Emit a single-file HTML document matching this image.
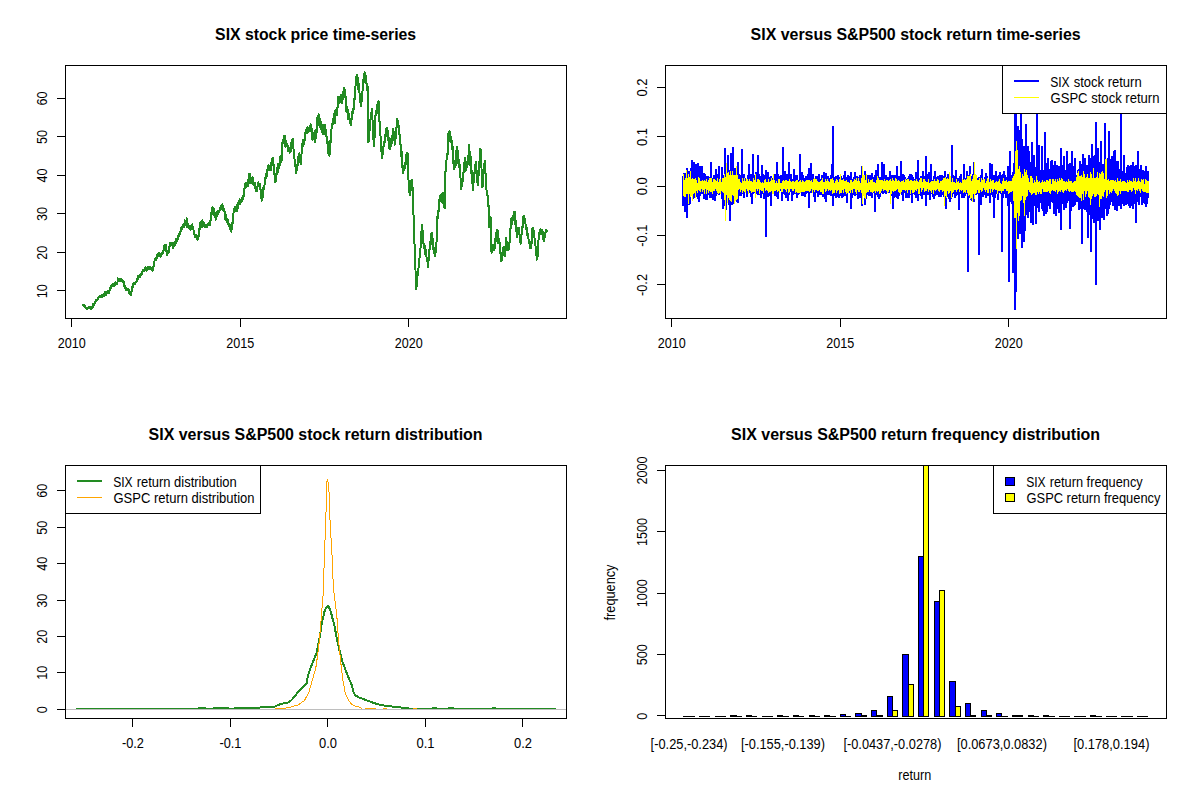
<!DOCTYPE html><html><head><meta charset="utf-8"><title>SIX vs S&amp;P500</title>
<style>html,body{margin:0;padding:0;background:#fff;}svg{display:block}text{font-family:"Liberation Sans", sans-serif;fill:#000}</style></head><body>
<svg width="1200" height="800" viewBox="0 0 1200 800">
<rect x="0" y="0" width="1200" height="800" fill="#fff"/>
<polyline fill="none" stroke="#228B22" stroke-width="2" stroke-linejoin="round" shape-rendering="crispEdges" points="82.8,304.8 82.9,305.0 83.0,304.9 83.2,304.8 83.3,304.5 83.5,304.8 83.6,305.7 83.8,305.8 83.9,306.2 84.1,306.0 84.2,305.8 84.4,305.6 84.5,305.4 84.7,306.3 84.8,306.8 85.0,307.1 85.1,306.2 85.3,305.9 85.4,306.4 85.6,307.0 85.7,307.9 85.9,308.2 86.0,308.6 86.1,308.4 86.3,308.5 86.4,308.6 86.6,308.1 86.7,309.1 86.9,308.9 87.0,309.1 87.1,308.2 87.3,307.7 87.4,307.6 87.6,307.7 87.7,308.1 87.9,308.1 88.0,307.6 88.2,307.3 88.3,307.4 88.4,307.6 88.6,307.6 88.7,307.7 88.9,307.9 89.0,307.0 89.1,307.5 89.3,308.4 89.4,307.0 89.6,307.3 89.7,307.6 89.9,307.4 90.0,308.1 90.1,308.1 90.3,307.3 90.4,308.3 90.6,308.6 90.7,309.0 90.8,309.4 91.0,309.1 91.1,308.8 91.3,308.0 91.4,308.5 91.5,308.4 91.7,308.6 91.8,308.1 92.0,307.5 92.1,307.2 92.3,307.9 92.4,306.2 92.5,305.7 92.7,306.2 92.8,307.1 93.0,306.8 93.1,305.0 93.2,303.7 93.4,304.7 93.5,304.3 93.7,303.8 93.8,304.7 94.0,305.0 94.1,304.4 94.2,304.1 94.4,303.9 94.5,304.1 94.7,303.4 94.8,302.8 94.9,302.4 95.1,302.0 95.2,302.2 95.4,302.3 95.5,302.2 95.6,300.5 95.8,300.4 95.9,301.2 96.1,299.7 96.2,300.0 96.3,300.8 96.5,299.6 96.6,300.8 96.8,300.5 96.9,299.8 97.0,299.7 97.2,299.8 97.3,299.4 97.5,299.8 97.6,298.6 97.7,298.2 97.9,298.8 98.0,298.3 98.2,297.4 98.3,298.1 98.4,298.4 98.6,297.4 98.7,296.7 98.9,296.8 99.0,296.7 99.1,296.6 99.3,296.9 99.4,296.3 99.6,297.1 99.7,295.9 99.8,295.6 100.0,296.4 100.1,297.0 100.3,297.1 100.4,296.8 100.5,296.5 100.7,296.3 100.8,296.5 101.0,296.0 101.1,296.1 101.2,296.3 101.4,296.0 101.5,296.3 101.7,296.3 101.8,297.3 101.9,296.5 102.1,295.6 102.2,295.2 102.4,295.3 102.5,295.8 102.6,295.3 102.8,295.3 102.9,295.4 103.1,295.1 103.2,294.7 103.3,294.7 103.5,294.9 103.6,294.9 103.8,294.4 103.9,294.9 104.0,294.8 104.2,294.2 104.3,295.9 104.5,295.2 104.6,294.2 104.7,294.0 104.9,293.8 105.0,293.8 105.2,291.8 105.3,292.5 105.4,293.8 105.6,292.8 105.7,293.1 105.9,293.9 106.0,294.1 106.1,294.7 106.3,292.6 106.4,292.5 106.6,292.6 106.7,293.0 106.8,293.2 107.0,292.4 107.1,292.6 107.3,292.1 107.4,292.4 107.6,291.2 107.7,291.7 107.8,292.6 108.0,292.0 108.1,291.9 108.3,292.2 108.4,291.8 108.6,291.3 108.7,292.2 108.8,292.2 109.0,291.1 109.1,292.8 109.3,290.6 109.4,290.6 109.6,290.2 109.7,290.0 109.9,290.0 110.0,289.8 110.1,289.7 110.3,287.9 110.4,287.0 110.6,288.0 110.7,287.1 110.9,286.5 111.0,285.7 111.1,287.3 111.3,287.4 111.4,287.9 111.6,286.1 111.7,285.9 111.9,285.3 112.0,285.3 112.1,285.5 112.3,285.2 112.4,285.9 112.6,286.2 112.7,285.5 112.8,283.6 113.0,285.4 113.1,285.0 113.3,284.4 113.4,284.9 113.5,285.1 113.7,286.0 113.8,284.4 114.0,285.3 114.1,286.0 114.2,286.3 114.4,285.1 114.5,284.0 114.7,284.9 114.8,284.6 114.9,284.4 115.1,285.3 115.2,284.4 115.4,282.3 115.5,283.0 115.6,282.6 115.8,283.7 115.9,283.8 116.1,283.7 116.2,283.4 116.4,283.6 116.5,283.3 116.6,284.0 116.8,283.0 116.9,283.3 117.1,283.7 117.2,283.9 117.4,281.9 117.5,282.2 117.6,279.9 117.8,279.4 117.9,278.3 118.1,280.2 118.2,279.3 118.4,279.7 118.5,279.6 118.6,279.6 118.8,279.5 118.9,279.8 119.1,281.1 119.2,280.6 119.3,280.7 119.5,281.2 119.6,280.4 119.8,279.2 119.9,279.3 120.0,280.8 120.2,279.2 120.3,279.3 120.5,280.8 120.6,281.3 120.7,280.9 120.9,281.4 121.0,281.2 121.2,280.0 121.3,279.1 121.4,279.5 121.6,281.1 121.7,280.5 121.9,280.1 122.0,280.2 122.1,280.0 122.3,280.8 122.4,280.9 122.6,281.3 122.7,281.0 122.9,281.5 123.0,281.6 123.1,280.6 123.3,282.6 123.4,282.8 123.6,281.5 123.7,282.2 123.8,283.6 124.0,283.9 124.1,285.1 124.3,285.8 124.4,286.2 124.5,286.3 124.7,287.4 124.8,287.5 125.0,287.5 125.1,285.8 125.3,287.4 125.4,288.4 125.5,288.1 125.7,288.2 125.8,288.6 126.0,288.3 126.1,288.6 126.2,290.5 126.4,288.8 126.5,289.3 126.7,290.4 126.8,289.4 127.0,289.5 127.1,289.8 127.3,288.6 127.4,288.7 127.5,289.1 127.7,289.6 127.8,289.3 128.0,289.0 128.1,288.8 128.3,289.1 128.4,289.5 128.5,289.9 128.7,289.6 128.8,289.6 129.0,292.4 129.1,292.7 129.3,292.7 129.4,290.5 129.5,292.1 129.7,292.9 129.8,294.3 130.0,294.2 130.1,294.0 130.3,294.5 130.4,293.6 130.5,294.8 130.7,295.1 130.8,294.3 131.0,294.4 131.1,294.8 131.3,292.3 131.4,291.4 131.6,291.3 131.7,290.8 131.8,289.9 132.0,288.6 132.1,290.1 132.3,289.6 132.4,287.3 132.6,285.8 132.7,287.2 132.8,286.5 133.0,285.8 133.1,284.5 133.3,284.4 133.4,284.5 133.6,282.6 133.7,282.8 133.8,283.4 134.0,284.1 134.1,283.3 134.3,283.4 134.4,283.9 134.6,284.0 134.7,284.1 134.9,283.8 135.0,283.2 135.1,283.8 135.3,283.3 135.4,282.8 135.6,282.9 135.7,282.5 135.9,282.3 136.0,282.2 136.1,281.9 136.3,281.8 136.4,281.4 136.6,280.1 136.7,280.8 136.8,281.5 137.0,281.1 137.1,280.3 137.3,280.4 137.4,279.1 137.5,277.6 137.7,278.4 137.8,277.8 138.0,278.8 138.1,277.6 138.3,275.6 138.4,276.3 138.5,277.9 138.7,277.4 138.8,277.2 139.0,276.7 139.1,276.6 139.2,276.7 139.4,276.5 139.5,277.4 139.7,277.0 139.8,276.0 139.9,276.0 140.1,276.7 140.2,276.3 140.4,276.1 140.5,274.0 140.6,273.7 140.8,274.2 140.9,273.4 141.1,274.1 141.2,273.9 141.3,273.9 141.5,272.8 141.6,274.6 141.8,274.1 141.9,272.5 142.0,271.8 142.2,273.7 142.3,271.6 142.5,271.4 142.6,271.0 142.7,270.3 142.9,269.9 143.0,269.8 143.2,270.0 143.3,270.8 143.4,271.1 143.6,270.4 143.7,270.9 143.9,270.8 144.0,270.4 144.2,270.1 144.3,269.7 144.4,270.3 144.6,269.0 144.7,268.8 144.9,269.3 145.0,268.1 145.1,268.5 145.3,267.3 145.4,267.9 145.6,269.4 145.7,269.9 145.8,269.7 146.0,269.5 146.1,269.6 146.3,269.8 146.4,269.9 146.6,270.5 146.7,269.2 146.8,269.0 147.0,267.4 147.1,269.1 147.3,269.9 147.4,267.6 147.5,268.3 147.7,269.2 147.8,267.3 148.0,266.4 148.1,266.7 148.3,267.2 148.4,266.6 148.5,267.7 148.7,268.4 148.8,269.0 149.0,269.1 149.1,269.3 149.2,268.8 149.4,268.3 149.5,268.2 149.7,267.8 149.8,267.3 149.9,267.9 150.1,268.4 150.2,269.2 150.4,267.6 150.5,267.3 150.7,268.4 150.8,268.8 150.9,268.9 151.1,269.2 151.2,268.8 151.4,270.0 151.5,270.3 151.6,270.1 151.8,269.5 151.9,269.7 152.1,267.6 152.2,268.7 152.4,270.0 152.5,270.1 152.6,270.7 152.8,270.0 152.9,268.4 153.1,267.8 153.2,267.3 153.3,267.5 153.5,267.3 153.6,266.3 153.8,264.6 153.9,264.2 154.1,263.7 154.2,263.9 154.4,263.2 154.5,261.5 154.6,259.7 154.8,259.9 154.9,259.5 155.1,259.3 155.2,258.8 155.4,258.3 155.5,258.3 155.6,258.7 155.8,257.8 155.9,260.2 156.1,258.3 156.2,258.8 156.3,257.9 156.5,258.4 156.6,254.8 156.8,254.7 156.9,255.6 157.0,256.3 157.2,258.3 157.3,256.9 157.5,257.2 157.6,256.6 157.8,256.4 157.9,255.4 158.0,254.4 158.2,254.1 158.3,253.6 158.5,253.9 158.6,253.3 158.7,253.7 158.9,256.1 159.0,254.6 159.2,254.2 159.3,255.3 159.5,254.6 159.6,253.4 159.7,254.0 159.9,254.7 160.0,255.1 160.2,253.7 160.3,255.9 160.4,256.7 160.6,255.4 160.7,255.1 160.9,254.2 161.0,255.8 161.1,254.3 161.3,254.7 161.4,254.4 161.6,254.4 161.7,254.2 161.9,254.4 162.0,253.9 162.1,252.8 162.3,253.5 162.4,252.7 162.6,252.5 162.7,253.6 162.8,253.5 163.0,251.4 163.1,253.5 163.3,251.6 163.4,251.5 163.5,249.7 163.7,249.3 163.8,247.0 164.0,249.8 164.1,250.4 164.2,247.6 164.4,245.8 164.5,244.6 164.7,247.2 164.8,246.2 164.9,246.1 165.1,245.6 165.2,245.5 165.4,244.8 165.5,244.9 165.6,244.7 165.8,245.3 165.9,247.3 166.1,249.1 166.2,249.9 166.3,250.3 166.5,252.3 166.6,253.4 166.8,255.3 166.9,255.1 167.1,254.6 167.2,253.7 167.3,252.6 167.5,251.5 167.6,251.4 167.8,251.8 167.9,252.0 168.1,251.9 168.2,253.3 168.4,250.5 168.5,249.8 168.6,252.4 168.8,248.0 168.9,247.3 169.1,247.5 169.2,247.4 169.4,247.3 169.5,246.3 169.6,246.3 169.8,245.7 169.9,245.9 170.1,243.2 170.2,243.2 170.4,243.3 170.5,243.1 170.7,242.7 170.8,243.3 170.9,242.8 171.1,244.0 171.2,244.8 171.4,244.7 171.5,245.0 171.6,244.5 171.8,242.8 171.9,243.8 172.1,244.8 172.2,244.2 172.3,244.5 172.5,245.8 172.6,244.5 172.8,245.8 172.9,247.8 173.1,246.0 173.2,246.1 173.3,245.9 173.5,247.0 173.6,246.5 173.8,246.3 173.9,246.0 174.0,245.7 174.2,245.4 174.3,243.1 174.5,245.6 174.6,246.0 174.7,242.9 174.9,244.3 175.0,243.7 175.2,244.0 175.3,243.9 175.5,241.4 175.6,241.7 175.7,243.7 175.9,242.0 176.0,240.5 176.2,239.3 176.3,238.8 176.4,240.2 176.6,242.0 176.7,241.1 176.9,240.3 177.0,239.8 177.1,239.6 177.3,238.9 177.4,239.1 177.6,239.2 177.7,237.3 177.9,236.0 178.0,237.0 178.1,237.2 178.3,235.2 178.4,235.5 178.6,235.0 178.7,235.9 178.8,235.3 179.0,234.9 179.1,234.3 179.3,235.5 179.4,236.4 179.5,234.3 179.7,234.8 179.8,232.7 180.0,232.7 180.1,233.4 180.2,234.5 180.4,232.3 180.5,231.5 180.7,231.3 180.8,230.0 180.9,230.2 181.1,230.1 181.2,229.7 181.4,228.8 181.5,227.1 181.6,227.6 181.8,228.2 181.9,227.3 182.1,228.7 182.2,227.6 182.3,226.5 182.5,227.3 182.6,224.7 182.8,224.6 182.9,225.2 183.0,226.5 183.2,225.6 183.3,225.6 183.5,224.1 183.6,224.6 183.7,226.5 183.9,224.0 184.0,226.9 184.2,223.9 184.3,223.3 184.4,223.0 184.6,223.7 184.7,221.4 184.9,220.3 185.0,221.3 185.1,221.1 185.3,221.6 185.4,223.1 185.6,222.9 185.7,222.9 185.9,223.9 186.0,223.8 186.1,225.6 186.3,222.4 186.4,222.4 186.6,218.2 186.7,222.3 186.9,222.7 187.0,224.7 187.1,227.5 187.3,225.8 187.4,224.9 187.6,224.2 187.7,223.6 187.9,223.7 188.0,225.6 188.1,225.8 188.3,226.0 188.4,225.9 188.6,227.5 188.7,227.7 188.9,227.1 189.0,228.0 189.2,227.4 189.3,226.1 189.4,228.5 189.6,228.4 189.7,227.8 189.9,228.4 190.0,228.4 190.2,227.9 190.3,229.0 190.4,229.1 190.6,229.8 190.7,229.1 190.9,228.3 191.0,226.0 191.1,228.3 191.3,228.0 191.4,227.5 191.6,228.0 191.7,227.9 191.8,228.5 192.0,227.4 192.1,227.3 192.3,224.4 192.4,225.4 192.6,227.2 192.7,228.9 192.8,227.3 193.0,226.9 193.1,227.4 193.3,226.8 193.4,228.3 193.6,231.2 193.7,230.6 193.9,232.3 194.0,230.9 194.1,232.0 194.3,232.5 194.4,233.5 194.6,235.6 194.7,237.0 194.9,235.8 195.0,235.8 195.2,236.2 195.3,235.2 195.5,236.3 195.6,237.1 195.7,236.4 195.9,237.2 196.0,235.0 196.2,236.9 196.3,235.0 196.4,235.2 196.6,235.6 196.7,236.0 196.9,237.8 197.0,237.7 197.1,237.1 197.3,238.1 197.4,239.9 197.6,238.8 197.7,238.6 197.9,239.0 198.0,238.4 198.1,238.2 198.3,238.2 198.4,239.2 198.6,234.7 198.7,234.2 198.9,234.0 199.0,234.2 199.1,233.3 199.3,231.2 199.4,228.8 199.6,228.7 199.7,229.4 199.9,226.4 200.0,224.6 200.1,224.6 200.3,222.4 200.4,223.1 200.6,222.8 200.7,222.8 200.9,222.6 201.0,222.3 201.1,222.3 201.3,222.7 201.4,222.2 201.6,222.8 201.7,224.2 201.9,225.5 202.0,226.8 202.1,224.0 202.3,223.3 202.4,220.2 202.6,224.9 202.7,223.4 202.8,223.8 203.0,224.7 203.1,222.6 203.3,224.2 203.4,224.3 203.6,221.9 203.7,223.8 203.8,225.9 204.0,222.7 204.1,225.0 204.3,225.2 204.4,225.8 204.6,226.0 204.7,227.3 204.8,225.9 205.0,226.8 205.1,225.5 205.3,226.5 205.4,224.9 205.6,225.3 205.7,227.0 205.8,226.5 206.0,226.0 206.1,225.7 206.3,226.0 206.4,225.7 206.5,226.6 206.7,226.8 206.8,226.8 207.0,226.0 207.1,227.5 207.3,225.7 207.4,224.7 207.6,226.1 207.7,225.6 207.8,224.8 208.0,224.0 208.1,224.0 208.3,225.2 208.4,225.1 208.6,224.0 208.7,224.4 208.8,224.3 209.0,222.7 209.1,224.2 209.3,223.4 209.4,222.8 209.6,224.0 209.7,225.1 209.9,222.7 210.0,222.5 210.1,221.3 210.3,222.7 210.4,220.4 210.6,220.9 210.7,218.0 210.9,218.4 211.0,220.1 211.2,213.4 211.3,213.0 211.5,213.7 211.6,212.7 211.8,210.9 211.9,213.8 212.1,211.5 212.2,207.9 212.4,208.5 212.5,207.5 212.6,208.3 212.8,208.2 212.9,209.1 213.1,211.6 213.2,211.3 213.4,209.2 213.5,208.1 213.7,212.2 213.8,213.7 214.0,212.4 214.1,214.5 214.3,215.3 214.4,216.1 214.6,212.6 214.7,214.6 214.9,216.5 215.0,216.9 215.1,217.1 215.3,215.3 215.4,215.7 215.6,216.5 215.7,219.9 215.9,216.2 216.0,215.4 216.2,215.4 216.3,216.6 216.4,215.1 216.6,216.7 216.7,214.4 216.9,214.9 217.0,213.8 217.2,214.3 217.3,213.1 217.5,211.2 217.6,214.2 217.7,214.3 217.9,213.0 218.0,213.4 218.2,214.5 218.3,212.5 218.5,212.6 218.6,212.8 218.8,212.5 218.9,212.2 219.0,210.5 219.2,211.9 219.3,212.0 219.5,211.4 219.6,210.5 219.8,210.8 219.9,209.7 220.0,208.1 220.2,207.7 220.3,207.6 220.5,207.3 220.6,206.2 220.8,208.3 220.9,206.1 221.1,208.0 221.2,206.1 221.3,207.2 221.5,209.1 221.6,208.0 221.8,205.9 221.9,206.0 222.1,206.0 222.2,204.4 222.4,204.8 222.5,205.0 222.6,205.3 222.8,206.0 222.9,207.4 223.1,208.8 223.2,210.0 223.4,210.3 223.5,209.4 223.7,209.8 223.8,209.9 223.9,210.1 224.1,210.8 224.2,209.1 224.4,210.7 224.5,212.2 224.7,211.8 224.8,213.4 225.0,215.2 225.1,215.3 225.2,218.9 225.4,214.1 225.5,215.7 225.7,214.7 225.8,218.2 226.0,220.6 226.1,219.0 226.2,220.0 226.4,220.4 226.5,220.4 226.7,221.4 226.8,218.3 227.0,221.3 227.1,222.2 227.2,222.2 227.4,221.6 227.5,223.1 227.7,222.4 227.8,223.2 228.0,222.8 228.1,220.3 228.2,222.4 228.4,223.8 228.5,225.4 228.7,224.0 228.8,224.7 228.9,225.9 229.1,225.9 229.2,226.5 229.4,226.2 229.5,226.5 229.7,224.8 229.8,226.8 230.0,228.9 230.1,229.2 230.3,229.2 230.4,227.4 230.6,226.5 230.7,228.4 230.8,226.9 231.0,225.1 231.1,225.4 231.3,230.3 231.4,231.8 231.6,228.9 231.7,228.4 231.9,228.8 232.0,226.9 232.2,227.3 232.3,225.2 232.5,222.1 232.6,223.3 232.7,220.4 232.9,219.5 233.0,218.1 233.2,216.2 233.3,215.6 233.5,213.1 233.6,211.1 233.8,211.2 233.9,209.8 234.0,209.0 234.2,209.7 234.3,210.4 234.5,211.5 234.6,211.3 234.8,209.7 234.9,209.2 235.1,206.7 235.2,208.5 235.4,210.3 235.5,211.1 235.7,210.4 235.8,210.0 236.0,211.1 236.1,210.3 236.2,210.0 236.4,210.1 236.5,209.8 236.7,211.0 236.8,208.3 237.0,207.2 237.1,205.7 237.3,204.8 237.4,207.7 237.6,209.1 237.7,206.8 237.9,206.3 238.0,206.8 238.2,206.2 238.3,206.3 238.5,202.4 238.6,201.9 238.8,201.9 238.9,202.2 239.0,202.1 239.2,201.0 239.3,200.6 239.5,199.7 239.6,199.0 239.7,202.4 239.9,200.4 240.0,200.5 240.2,203.9 240.3,203.8 240.4,202.3 240.6,200.0 240.7,200.5 240.9,202.7 241.0,201.9 241.1,202.5 241.3,200.9 241.4,200.7 241.6,199.4 241.7,199.8 241.9,201.3 242.0,197.4 242.1,197.8 242.3,198.4 242.4,197.4 242.6,197.4 242.7,198.4 242.8,199.2 243.0,198.2 243.1,197.5 243.3,195.8 243.4,197.9 243.6,196.0 243.7,194.3 243.8,191.3 244.0,191.2 244.1,188.9 244.3,189.3 244.4,189.7 244.6,188.6 244.7,188.0 244.9,186.0 245.0,185.6 245.1,185.5 245.3,183.7 245.4,183.9 245.6,183.1 245.7,182.5 245.9,183.3 246.0,184.7 246.1,182.7 246.3,183.6 246.4,186.7 246.6,186.8 246.7,185.3 246.8,185.0 247.0,184.5 247.1,184.3 247.3,185.5 247.4,184.6 247.6,180.0 247.7,182.5 247.8,182.6 248.0,183.9 248.1,183.8 248.3,183.1 248.4,186.2 248.6,182.0 248.7,179.6 248.8,177.7 249.0,174.7 249.1,174.0 249.3,177.5 249.4,176.9 249.6,174.1 249.7,173.7 249.9,177.0 250.0,176.9 250.1,176.7 250.3,177.3 250.4,179.2 250.6,182.0 250.7,181.9 250.9,180.2 251.0,179.6 251.2,182.4 251.3,183.1 251.4,180.4 251.6,180.7 251.7,180.6 251.9,180.3 252.0,179.3 252.2,177.5 252.3,178.2 252.5,176.8 252.6,181.3 252.7,182.2 252.9,179.6 253.0,183.2 253.2,183.8 253.3,180.2 253.5,183.1 253.6,182.8 253.8,182.5 253.9,183.0 254.0,184.2 254.2,185.2 254.3,185.4 254.5,185.8 254.6,187.7 254.8,184.5 254.9,183.7 255.1,183.4 255.2,185.0 255.4,185.9 255.5,188.3 255.7,189.5 255.8,189.9 256.0,189.5 256.1,190.3 256.2,191.2 256.4,191.4 256.5,190.8 256.7,189.1 256.8,191.2 257.0,188.0 257.1,188.4 257.3,189.1 257.4,186.5 257.5,186.9 257.7,183.3 257.8,185.0 258.0,183.6 258.1,182.5 258.3,183.0 258.4,182.3 258.6,185.4 258.7,183.8 258.9,184.2 259.0,185.4 259.2,185.1 259.3,186.3 259.4,185.6 259.6,187.7 259.7,187.7 259.9,188.3 260.0,183.7 260.2,188.6 260.3,189.1 260.5,188.5 260.6,190.0 260.8,191.3 260.9,194.1 261.1,192.3 261.2,196.5 261.4,196.2 261.6,200.8 261.7,198.9 261.9,198.8 262.0,198.0 262.2,195.9 262.3,197.3 262.5,197.5 262.6,198.1 262.8,196.9 262.9,193.5 263.1,189.7 263.2,189.2 263.3,188.5 263.5,187.5 263.6,189.0 263.8,188.8 263.9,187.2 264.1,186.8 264.2,185.8 264.4,185.0 264.5,184.7 264.7,184.8 264.8,182.7 264.9,179.3 265.1,182.6 265.2,181.4 265.4,182.2 265.5,177.2 265.7,176.9 265.8,177.0 265.9,174.0 266.1,173.9 266.2,175.7 266.4,176.8 266.5,177.8 266.6,173.3 266.8,169.9 266.9,171.5 267.1,172.4 267.2,170.8 267.4,169.0 267.5,168.8 267.6,169.3 267.8,169.9 267.9,168.4 268.1,169.0 268.2,170.1 268.4,168.0 268.5,164.6 268.7,167.1 268.8,168.6 269.0,168.2 269.1,169.7 269.3,167.6 269.4,167.5 269.6,167.0 269.7,168.2 269.9,168.8 270.0,167.5 270.1,168.3 270.3,169.4 270.4,169.4 270.6,168.7 270.7,170.2 270.9,166.9 271.0,165.3 271.1,162.5 271.3,164.0 271.4,166.2 271.6,165.4 271.7,164.6 271.8,162.8 272.0,162.5 272.1,159.0 272.3,162.1 272.4,160.3 272.6,158.0 272.7,157.8 272.8,158.0 273.0,159.3 273.1,158.8 273.3,159.8 273.4,163.4 273.6,166.4 273.7,165.9 273.8,165.0 274.0,167.0 274.1,169.1 274.3,172.9 274.4,174.3 274.6,172.9 274.7,177.5 274.9,179.1 275.0,182.5 275.1,181.4 275.3,180.2 275.4,178.9 275.6,178.1 275.7,180.8 275.9,180.9 276.0,180.2 276.2,179.0 276.3,174.7 276.4,174.3 276.6,173.7 276.7,172.4 276.9,174.1 277.0,172.3 277.2,171.1 277.3,169.7 277.5,166.7 277.6,170.1 277.7,172.6 277.9,171.2 278.0,168.1 278.2,163.5 278.3,166.6 278.5,168.1 278.6,167.1 278.8,166.2 278.9,167.2 279.0,168.1 279.2,165.8 279.3,166.9 279.5,166.7 279.6,161.8 279.8,161.5 279.9,159.2 280.1,160.5 280.2,162.2 280.4,159.4 280.5,156.0 280.7,160.9 280.8,161.0 281.0,162.0 281.1,158.8 281.2,158.8 281.4,160.4 281.6,161.0 281.7,155.1 281.9,152.3 282.0,149.0 282.2,148.9 282.3,147.0 282.5,142.5 282.6,140.6 282.8,141.9 282.9,139.9 283.1,141.0 283.2,140.4 283.4,142.8 283.6,142.4 283.7,138.4 283.9,137.6 284.0,136.2 284.1,137.0 284.3,138.2 284.4,140.9 284.6,142.3 284.7,141.6 284.8,137.5 285.0,136.1 285.1,139.0 285.3,140.9 285.4,146.6 285.5,142.1 285.7,144.7 285.8,145.3 286.0,141.1 286.1,142.2 286.2,143.8 286.4,143.7 286.5,143.8 286.7,145.1 286.8,143.5 287.0,145.6 287.1,144.4 287.2,144.2 287.4,146.6 287.5,145.5 287.7,147.0 287.8,150.6 288.0,149.1 288.1,148.2 288.2,149.9 288.4,148.4 288.5,151.0 288.7,147.4 288.8,149.9 288.9,149.0 289.1,148.9 289.2,151.1 289.4,150.6 289.5,151.0 289.7,151.1 289.8,152.6 289.9,148.4 290.1,150.4 290.2,151.6 290.4,148.5 290.5,146.8 290.7,151.2 290.8,148.0 290.9,145.1 291.1,143.0 291.2,144.0 291.4,144.0 291.5,143.3 291.6,146.1 291.8,142.6 291.9,142.4 292.1,143.5 292.2,139.6 292.4,139.9 292.5,138.8 292.6,140.0 292.8,139.3 292.9,139.9 293.1,139.4 293.2,144.9 293.4,143.4 293.5,148.5 293.7,153.6 293.8,150.4 293.9,152.5 294.1,151.4 294.2,157.0 294.4,158.8 294.5,159.3 294.7,160.5 294.8,162.9 295.0,162.9 295.1,164.2 295.2,164.3 295.4,166.2 295.5,165.2 295.7,167.8 295.8,165.7 296.0,168.4 296.1,173.1 296.2,173.1 296.4,171.8 296.5,171.3 296.7,169.0 296.8,165.8 297.0,165.8 297.1,168.1 297.2,168.1 297.4,166.7 297.5,164.0 297.7,162.0 297.8,165.4 298.0,164.3 298.1,161.0 298.2,156.8 298.4,155.9 298.5,162.7 298.7,158.1 298.8,157.7 298.9,157.6 299.1,156.5 299.2,155.6 299.4,155.0 299.5,153.5 299.7,159.2 299.8,157.8 300.0,161.1 300.2,158.1 300.3,160.3 300.5,163.0 300.6,164.4 300.8,161.5 300.9,161.8 301.1,160.7 301.2,157.1 301.4,157.1 301.5,155.0 301.6,151.7 301.8,151.4 301.9,145.1 302.1,147.0 302.2,145.3 302.4,143.5 302.5,146.2 302.6,145.8 302.8,144.7 302.9,146.5 303.1,142.6 303.2,140.0 303.4,144.6 303.5,143.9 303.6,144.5 303.8,140.6 303.9,142.1 304.1,141.2 304.2,141.4 304.3,139.8 304.5,141.4 304.6,137.7 304.8,135.0 304.9,132.4 305.1,136.7 305.2,134.4 305.3,133.3 305.5,133.4 305.6,133.8 305.8,132.5 305.9,132.1 306.1,131.2 306.2,130.7 306.3,129.7 306.5,131.4 306.6,130.9 306.8,131.9 306.9,132.6 307.0,133.0 307.2,127.3 307.3,128.5 307.5,128.3 307.6,131.6 307.8,127.7 307.9,127.9 308.0,128.8 308.2,129.0 308.3,131.7 308.5,130.2 308.6,130.7 308.8,130.0 308.9,128.1 309.0,130.2 309.2,131.0 309.3,131.4 309.5,130.7 309.6,131.1 309.8,127.4 309.9,130.6 310.1,128.7 310.2,131.2 310.4,130.3 310.5,125.1 310.7,124.3 310.8,129.4 311.0,128.8 311.1,128.5 311.2,128.8 311.4,128.8 311.5,128.2 311.7,129.7 311.8,130.8 312.0,134.6 312.1,133.3 312.3,137.1 312.4,138.9 312.5,139.8 312.7,139.0 312.8,136.5 313.0,135.2 313.1,135.0 313.3,134.7 313.4,134.9 313.6,133.9 313.7,138.7 313.9,138.6 314.0,136.4 314.2,132.4 314.3,134.8 314.4,135.2 314.6,134.0 314.7,133.5 314.9,130.9 315.0,136.1 315.2,137.1 315.3,142.0 315.5,139.3 315.6,138.8 315.8,138.6 315.9,137.3 316.0,135.6 316.2,132.7 316.3,130.0 316.5,132.8 316.6,132.2 316.8,132.7 316.9,127.4 317.0,125.1 317.2,121.2 317.3,122.9 317.5,117.3 317.6,118.6 317.7,118.1 317.9,115.6 318.0,116.1 318.2,118.2 318.3,116.6 318.5,115.5 318.6,114.0 318.7,119.5 318.9,123.4 319.0,120.1 319.2,118.5 319.3,119.1 319.5,126.3 319.6,126.3 319.8,122.9 319.9,118.7 320.0,119.7 320.2,124.7 320.3,127.1 320.5,125.0 320.6,125.0 320.8,124.8 320.9,121.5 321.1,126.5 321.2,124.7 321.3,129.2 321.5,125.1 321.6,124.6 321.8,128.3 321.9,127.9 322.1,131.5 322.2,131.7 322.4,130.8 322.5,132.5 322.6,133.0 322.8,128.6 322.9,133.9 323.1,133.3 323.2,133.3 323.4,127.2 323.5,126.8 323.7,127.3 323.8,130.5 323.9,126.0 324.1,125.3 324.2,125.1 324.4,127.5 324.5,127.8 324.7,124.8 324.8,126.0 325.0,129.5 325.1,133.9 325.2,134.0 325.4,132.2 325.5,129.8 325.7,129.5 325.8,130.4 326.0,132.9 326.1,134.2 326.2,135.0 326.4,136.5 326.5,136.1 326.7,140.1 326.8,142.1 327.0,141.4 327.1,139.8 327.2,137.2 327.4,138.3 327.5,143.5 327.7,142.7 327.8,141.7 328.0,145.1 328.1,147.2 328.2,149.4 328.4,151.0 328.5,153.8 328.7,150.9 328.8,153.9 328.9,151.9 329.1,154.2 329.2,154.9 329.4,155.6 329.5,154.7 329.7,152.7 329.8,153.0 330.0,151.5 330.1,148.3 330.3,144.4 330.4,141.2 330.6,139.2 330.7,138.1 330.8,137.0 331.0,142.1 331.1,138.3 331.3,135.9 331.4,130.1 331.6,127.4 331.7,126.3 331.9,125.0 332.0,123.8 332.2,126.3 332.3,124.0 332.5,126.3 332.6,119.2 332.8,121.3 332.9,122.7 333.1,123.0 333.2,123.9 333.3,123.4 333.5,122.8 333.6,117.5 333.8,117.7 333.9,113.8 334.1,119.4 334.2,120.3 334.4,120.0 334.5,118.4 334.7,116.7 334.8,121.6 335.0,123.3 335.1,119.5 335.2,120.7 335.4,114.0 335.5,109.8 335.7,111.1 335.8,110.5 336.0,110.8 336.1,112.7 336.2,112.5 336.4,112.3 336.5,111.8 336.7,111.6 336.8,110.7 337.0,112.3 337.1,114.8 337.3,108.2 337.4,108.4 337.5,107.1 337.7,107.8 337.8,103.1 338.0,100.2 338.1,97.1 338.3,102.6 338.4,103.9 338.6,103.9 338.7,97.5 338.8,99.3 339.0,98.9 339.1,96.7 339.3,96.7 339.4,100.6 339.6,101.2 339.7,100.0 339.9,99.6 340.0,98.8 340.1,98.5 340.3,98.3 340.4,99.2 340.6,98.3 340.7,97.5 340.9,97.0 341.0,95.3 341.1,101.9 341.3,100.3 341.4,99.2 341.6,103.4 341.7,102.9 341.8,94.8 342.0,97.0 342.1,98.1 342.3,101.3 342.4,101.1 342.6,99.5 342.7,93.7 342.8,92.7 343.0,93.8 343.1,93.8 343.3,92.5 343.4,91.3 343.6,90.9 343.7,91.9 343.8,92.9 344.0,91.5 344.1,88.2 344.3,93.2 344.4,96.2 344.6,92.8 344.7,93.9 344.9,91.6 345.0,90.0 345.1,92.7 345.3,92.1 345.4,95.5 345.6,98.9 345.7,96.3 345.9,103.3 346.0,107.6 346.2,109.5 346.3,111.6 346.4,110.2 346.6,107.5 346.7,107.0 346.9,108.8 347.0,109.2 347.2,109.7 347.3,111.5 347.5,107.1 347.6,115.4 347.7,119.5 347.9,116.0 348.0,116.5 348.2,116.5 348.3,116.3 348.5,115.4 348.6,115.5 348.8,114.2 348.9,116.3 349.0,117.1 349.2,118.6 349.3,116.8 349.5,118.4 349.6,119.5 349.8,121.6 349.9,119.0 350.0,121.6 350.2,123.7 350.3,123.7 350.5,123.2 350.6,123.8 350.8,122.8 350.9,123.1 351.1,125.2 351.2,122.5 351.3,119.5 351.5,120.2 351.6,119.7 351.8,116.4 351.9,115.0 352.0,115.5 352.2,117.2 352.3,113.1 352.5,111.3 352.6,113.8 352.8,110.4 352.9,111.7 353.0,112.5 353.2,111.4 353.3,108.7 353.5,109.4 353.6,109.0 353.8,108.8 353.9,105.9 354.0,106.6 354.2,99.6 354.3,99.1 354.5,98.3 354.6,99.3 354.8,94.6 354.9,94.5 355.0,90.5 355.2,91.0 355.3,92.5 355.5,86.3 355.6,83.8 355.8,81.4 355.9,83.5 356.1,84.7 356.2,81.4 356.4,76.0 356.6,77.3 356.7,78.5 356.9,75.0 357.0,77.5 357.2,74.7 357.3,74.6 357.5,81.3 357.6,77.5 357.8,82.8 357.9,87.8 358.1,87.5 358.2,88.8 358.3,86.0 358.5,82.9 358.6,85.0 358.8,86.2 358.9,87.7 359.1,90.4 359.2,90.4 359.4,91.2 359.5,93.1 359.7,94.1 359.8,99.8 360.0,99.3 360.1,98.8 360.2,98.4 360.4,97.8 360.5,103.3 360.7,103.3 360.8,100.8 361.0,101.8 361.1,104.5 361.2,106.2 361.4,105.1 361.5,101.2 361.7,101.2 361.8,99.6 362.0,94.4 362.1,94.3 362.3,92.9 362.4,92.8 362.6,89.3 362.7,88.7 362.9,82.2 363.0,79.8 363.2,82.8 363.3,83.9 363.5,80.1 363.6,77.0 363.8,75.6 363.9,74.4 364.0,73.4 364.2,76.8 364.3,79.0 364.5,75.6 364.6,71.9 364.8,79.7 364.9,79.8 365.1,77.2 365.2,78.9 365.4,82.2 365.5,74.3 365.7,81.2 365.8,83.4 366.0,78.3 366.1,82.1 366.2,82.5 366.4,83.5 366.6,84.6 366.7,90.2 366.9,85.2 367.0,84.7 367.2,87.5 367.3,84.4 367.5,85.0 367.6,91.6 367.8,100.4 367.9,106.5 368.1,117.6 368.2,127.2 368.4,134.9 368.5,142.5 368.6,141.4 368.8,141.4 368.9,138.5 369.1,138.7 369.2,132.0 369.3,132.9 369.5,131.8 369.6,129.7 369.8,127.8 369.9,126.7 370.0,124.6 370.2,119.4 370.3,120.0 370.5,119.6 370.6,118.7 370.8,116.3 370.9,116.6 371.0,118.2 371.2,115.6 371.3,113.1 371.5,115.0 371.6,113.4 371.7,111.1 371.9,108.8 372.0,111.8 372.2,114.0 372.3,119.0 372.4,118.7 372.6,120.9 372.7,124.5 372.9,127.4 373.0,128.7 373.1,133.4 373.3,134.3 373.4,138.1 373.6,141.9 373.7,143.5 373.9,144.9 374.0,146.2 374.1,141.4 374.3,137.3 374.4,136.8 374.6,137.2 374.7,129.6 374.9,128.0 375.0,122.8 375.2,119.1 375.3,116.8 375.5,116.0 375.6,112.5 375.8,112.9 375.9,111.0 376.1,112.4 376.2,113.5 376.3,111.5 376.5,111.3 376.6,108.4 376.8,105.5 376.9,105.6 377.0,104.7 377.2,112.9 377.3,107.9 377.5,110.7 377.6,108.0 377.8,106.8 377.9,107.1 378.0,103.1 378.2,105.3 378.3,104.3 378.5,100.6 378.6,101.8 378.8,101.2 378.9,106.2 379.1,113.2 379.2,113.2 379.4,117.4 379.5,121.8 379.7,121.9 379.8,128.2 380.0,130.0 380.1,130.3 380.3,133.7 380.4,133.7 380.6,137.0 380.7,136.3 380.9,140.9 381.0,141.6 381.2,146.2 381.3,145.5 381.4,150.5 381.6,152.5 381.7,155.3 381.9,157.5 382.1,158.0 382.3,158.3 382.4,155.9 382.5,155.0 382.7,153.1 382.8,152.1 383.0,152.9 383.1,147.8 383.3,147.5 383.4,147.1 383.6,145.4 383.7,146.9 383.8,146.1 384.0,143.7 384.1,141.7 384.3,144.0 384.4,141.3 384.6,142.3 384.7,141.8 384.9,135.9 385.0,134.4 385.1,135.6 385.3,136.3 385.4,137.0 385.6,136.8 385.7,136.2 385.9,132.6 386.0,131.0 386.2,130.4 386.3,129.0 386.4,130.3 386.6,129.4 386.7,131.5 386.9,131.8 387.0,128.2 387.2,133.7 387.3,135.0 387.4,135.4 387.6,133.5 387.7,134.5 387.9,139.7 388.0,137.3 388.1,130.8 388.3,134.1 388.4,135.2 388.6,138.4 388.7,139.8 388.9,139.6 389.0,140.2 389.1,144.9 389.3,142.1 389.4,148.5 389.6,146.4 389.7,145.5 389.8,148.1 390.0,148.8 390.1,149.3 390.3,148.7 390.4,145.9 390.6,144.2 390.7,146.9 390.8,145.1 391.0,141.6 391.1,143.5 391.3,144.8 391.4,142.9 391.5,137.7 391.7,138.1 391.8,139.6 392.0,140.5 392.1,142.9 392.2,138.9 392.4,136.2 392.5,135.5 392.7,137.5 392.8,133.2 392.9,135.8 393.1,128.7 393.2,131.5 393.4,130.5 393.5,130.1 393.6,133.2 393.8,131.9 393.9,134.6 394.1,137.5 394.2,140.6 394.4,139.7 394.5,140.9 394.6,144.8 394.8,144.4 394.9,142.9 395.1,141.0 395.2,136.5 395.4,139.1 395.5,136.4 395.7,138.9 395.8,138.0 396.0,135.1 396.1,134.7 396.2,129.7 396.4,128.5 396.5,126.7 396.7,123.6 396.8,124.5 397.0,123.9 397.1,126.3 397.3,118.5 397.4,119.9 397.6,120.0 397.7,120.3 397.8,122.1 398.0,124.0 398.1,124.9 398.3,124.7 398.4,127.5 398.6,129.0 398.7,125.3 398.9,127.9 399.0,127.1 399.1,127.9 399.3,131.8 399.4,134.0 399.6,135.7 399.7,134.9 399.9,136.7 400.0,136.5 400.1,139.9 400.3,142.5 400.4,144.9 400.6,144.9 400.7,144.8 400.9,146.1 401.0,146.4 401.1,149.3 401.3,155.3 401.4,156.3 401.6,151.7 401.7,152.4 401.9,153.7 402.0,158.7 402.2,160.9 402.3,163.4 402.5,168.3 402.6,166.3 402.8,166.3 402.9,171.7 403.0,172.0 403.2,172.9 403.3,171.4 403.5,169.7 403.6,166.9 403.8,167.9 403.9,168.3 404.0,170.2 404.2,168.5 404.3,166.3 404.5,164.9 404.6,168.9 404.8,163.3 404.9,164.2 405.0,163.9 405.2,165.4 405.3,162.3 405.5,163.6 405.6,164.8 405.8,161.8 405.9,159.0 406.0,158.3 406.2,154.9 406.3,155.6 406.5,155.3 406.6,156.5 406.8,160.5 406.9,160.6 407.0,155.5 407.2,155.1 407.3,153.8 407.5,152.6 407.6,156.8 407.8,160.9 407.9,161.7 408.1,162.8 408.2,170.6 408.4,177.1 408.5,179.9 408.7,182.2 408.8,184.5 409.0,185.2 409.1,186.1 409.3,192.0 409.4,191.5 409.6,189.9 409.7,187.1 409.9,191.7 410.0,184.7 410.1,191.5 410.3,191.0 410.4,195.5 410.6,188.2 410.7,186.5 410.9,184.0 411.0,184.5 411.2,183.3 411.3,180.8 411.5,184.8 411.6,180.7 411.8,179.6 411.9,181.3 412.0,179.9 412.2,179.7 412.3,183.8 412.5,186.7 412.6,187.6 412.8,193.5 412.9,198.1 413.1,207.5 413.2,206.5 413.3,213.5 413.5,214.5 413.6,218.8 413.8,223.6 413.9,226.9 414.1,232.2 414.2,238.4 414.3,237.8 414.5,243.5 414.6,247.2 414.8,249.5 414.9,250.6 415.0,256.6 415.2,260.7 415.3,265.8 415.5,269.7 415.6,275.5 415.7,281.3 415.9,285.9 416.0,288.9 416.2,288.4 416.3,288.6 416.4,285.4 416.6,286.3 416.7,282.3 416.9,282.4 417.0,282.0 417.1,282.4 417.3,280.3 417.4,277.6 417.6,275.3 417.7,272.9 417.9,274.3 418.0,272.8 418.1,271.5 418.3,270.8 418.4,269.0 418.6,267.1 418.7,265.3 418.8,267.4 419.0,267.2 419.1,263.7 419.3,258.9 419.4,259.1 419.5,258.1 419.7,257.4 419.8,256.7 420.0,254.0 420.1,254.3 420.2,252.9 420.4,250.3 420.5,248.3 420.7,245.6 420.8,245.0 421.0,240.1 421.1,238.6 421.2,235.5 421.4,231.5 421.5,232.8 421.7,230.9 421.8,229.0 422.0,227.9 422.1,224.7 422.3,225.8 422.4,228.3 422.6,231.9 422.7,230.3 422.9,234.5 423.0,236.2 423.2,240.4 423.3,242.8 423.5,243.6 423.6,248.2 423.8,245.6 423.9,246.1 424.0,246.4 424.2,245.6 424.3,246.8 424.5,244.2 424.6,246.9 424.7,249.4 424.9,251.9 425.0,250.8 425.2,253.8 425.3,251.7 425.5,252.0 425.6,249.2 425.7,250.4 425.9,251.8 426.0,255.0 426.2,255.1 426.3,255.4 426.5,257.3 426.6,258.9 426.8,258.9 426.9,259.8 427.1,260.2 427.2,260.5 427.4,259.1 427.5,261.8 427.7,265.8 427.8,266.9 428.0,266.3 428.1,264.5 428.2,262.8 428.4,263.2 428.5,261.7 428.7,258.6 428.8,258.1 429.0,256.0 429.1,255.6 429.3,253.0 429.4,249.0 429.5,249.2 429.7,249.7 429.8,246.8 430.0,246.1 430.1,245.6 430.3,243.7 430.4,241.3 430.6,245.0 430.7,243.7 430.9,242.9 431.0,237.9 431.2,240.3 431.3,233.9 431.5,232.8 431.6,234.0 431.8,232.6 431.9,233.5 432.1,233.8 432.2,235.6 432.4,232.9 432.5,237.6 432.7,240.2 432.8,240.0 433.0,242.4 433.1,244.6 433.2,245.3 433.4,246.6 433.5,249.7 433.7,247.9 433.8,249.0 434.0,248.8 434.1,252.2 434.3,251.7 434.4,253.3 434.6,254.1 434.7,255.1 434.9,256.0 435.0,254.8 435.1,255.8 435.3,254.7 435.4,254.7 435.6,251.5 435.7,251.7 435.9,251.0 436.0,247.7 436.1,247.2 436.3,246.1 436.4,242.4 436.6,241.4 436.7,234.8 436.8,227.7 437.0,222.3 437.1,220.6 437.3,218.2 437.4,216.8 437.6,216.0 437.7,218.0 437.8,216.2 438.0,214.7 438.1,210.5 438.3,211.2 438.4,212.8 438.5,212.9 438.7,204.0 438.8,206.6 439.0,209.0 439.1,207.5 439.2,200.2 439.4,199.8 439.5,200.2 439.7,198.8 439.8,198.2 439.9,196.4 440.1,199.8 440.2,195.5 440.4,200.9 440.5,199.5 440.6,199.6 440.8,195.3 440.9,195.3 441.1,198.6 441.2,194.4 441.4,201.8 441.5,195.9 441.6,194.7 441.8,197.1 441.9,197.7 442.1,198.8 442.2,198.7 442.4,198.7 442.5,198.8 442.6,198.3 442.8,193.1 442.9,200.3 443.1,202.0 443.2,202.8 443.4,201.4 443.5,203.3 443.7,203.7 443.8,204.1 444.0,207.5 444.1,202.1 444.3,205.0 444.4,203.6 444.5,205.5 444.7,208.1 444.8,207.8 445.0,197.1 445.1,186.2 445.3,178.5 445.4,175.4 445.6,168.4 445.7,171.2 445.9,168.7 446.0,166.5 446.2,168.8 446.3,162.4 446.5,160.1 446.6,159.6 446.8,159.1 446.9,155.2 447.1,153.8 447.2,156.9 447.4,152.9 447.5,156.1 447.7,142.9 447.8,148.2 448.0,143.5 448.1,142.2 448.2,138.9 448.4,135.4 448.5,133.2 448.7,134.6 448.8,135.6 448.9,137.9 449.1,136.4 449.2,134.4 449.4,132.9 449.5,130.6 449.7,140.5 449.8,141.0 449.9,139.5 450.1,136.7 450.2,133.7 450.4,140.9 450.5,142.4 450.6,137.0 450.8,141.7 450.9,136.5 451.1,140.5 451.2,136.8 451.3,137.2 451.5,140.8 451.6,141.9 451.8,143.0 451.9,140.9 452.0,141.4 452.2,145.8 452.3,147.3 452.5,149.7 452.6,147.1 452.7,149.1 452.9,147.0 453.0,151.8 453.2,155.3 453.3,161.5 453.5,164.0 453.6,165.6 453.7,163.5 453.9,164.0 454.0,165.1 454.2,167.8 454.3,169.5 454.4,168.3 454.6,164.0 454.7,162.3 454.9,163.1 455.0,161.2 455.1,166.7 455.3,162.8 455.4,165.9 455.6,165.3 455.7,159.0 455.9,158.4 456.0,160.5 456.1,155.3 456.3,153.8 456.4,150.3 456.6,150.1 456.7,148.5 456.9,148.1 457.0,147.0 457.1,150.5 457.3,151.7 457.4,152.6 457.6,155.4 457.7,153.4 457.8,150.6 458.0,157.2 458.1,153.9 458.3,159.3 458.4,156.1 458.5,164.4 458.7,159.4 458.8,163.9 459.0,167.1 459.1,163.7 459.2,165.0 459.4,166.7 459.5,163.2 459.7,170.6 459.8,174.9 460.0,175.2 460.2,169.4 460.3,175.3 460.5,178.3 460.6,180.6 460.8,182.9 460.9,183.8 461.1,188.7 461.2,188.4 461.3,189.5 461.5,186.8 461.6,183.2 461.8,184.1 461.9,185.8 462.0,185.0 462.2,178.6 462.3,179.0 462.5,178.6 462.6,181.7 462.7,181.8 462.9,179.3 463.0,179.7 463.2,174.5 463.3,177.4 463.4,172.2 463.6,171.8 463.7,172.7 463.9,166.8 464.0,164.9 464.1,162.6 464.3,164.3 464.4,163.9 464.6,163.4 464.7,164.6 464.9,158.1 465.0,161.2 465.1,163.2 465.3,162.9 465.4,166.2 465.6,170.8 465.7,165.9 465.8,162.2 466.0,161.6 466.1,163.6 466.3,166.1 466.4,162.6 466.6,167.0 466.7,162.7 466.8,165.9 467.0,165.6 467.1,165.0 467.3,167.0 467.4,165.4 467.6,163.3 467.7,163.7 467.9,164.7 468.0,157.6 468.1,159.1 468.3,156.1 468.4,158.8 468.6,162.0 468.7,158.7 468.9,156.2 469.0,155.6 469.2,144.5 469.3,151.9 469.5,152.7 469.6,151.5 469.7,152.9 469.9,153.3 470.0,154.9 470.2,161.0 470.3,160.6 470.5,165.9 470.6,156.6 470.7,160.1 470.9,164.9 471.0,167.0 471.2,163.7 471.3,166.2 471.4,174.1 471.6,170.7 471.7,171.1 471.9,171.8 472.0,174.6 472.1,180.3 472.3,183.6 472.4,178.4 472.6,186.4 472.7,186.2 472.8,187.7 473.0,189.8 473.1,188.8 473.3,185.0 473.4,182.4 473.6,180.4 473.7,177.9 473.8,177.9 474.0,180.7 474.1,179.5 474.3,173.1 474.4,181.8 474.5,173.6 474.7,172.4 474.8,170.8 475.0,171.5 475.1,167.7 475.3,167.5 475.4,169.3 475.5,164.3 475.7,161.7 475.8,163.2 476.0,162.8 476.1,163.8 476.2,167.1 476.4,169.9 476.5,170.0 476.7,174.4 476.8,174.0 477.0,171.2 477.1,177.4 477.2,177.3 477.4,182.7 477.5,180.4 477.7,183.4 477.8,184.4 477.9,185.3 478.1,180.2 478.2,175.8 478.4,179.7 478.5,171.2 478.6,174.5 478.8,175.3 478.9,172.7 479.1,170.8 479.2,165.0 479.3,162.7 479.5,161.2 479.6,160.0 479.8,159.1 479.9,154.3 480.0,150.8 480.2,149.3 480.3,151.7 480.5,149.9 480.6,149.8 480.8,154.5 480.9,157.5 481.0,161.1 481.2,156.5 481.3,163.1 481.5,167.6 481.6,174.1 481.7,170.1 481.9,174.6 482.0,180.2 482.2,183.8 482.3,186.7 482.4,187.5 482.6,185.5 482.7,185.3 482.9,182.2 483.0,178.3 483.1,182.5 483.3,177.1 483.4,173.0 483.6,171.6 483.7,168.6 483.8,172.1 484.0,170.8 484.1,172.5 484.3,169.2 484.4,163.7 484.5,163.4 484.7,160.5 484.8,162.0 485.0,163.7 485.1,166.4 485.3,172.5 485.4,170.8 485.5,174.1 485.7,175.6 485.8,173.8 486.0,174.7 486.1,178.8 486.2,183.6 486.4,186.7 486.5,189.7 486.7,190.8 486.8,191.9 486.9,194.3 487.1,194.8 487.2,193.6 487.4,195.5 487.5,194.8 487.6,197.7 487.8,199.2 487.9,201.1 488.1,204.1 488.2,204.3 488.3,206.1 488.5,204.5 488.6,209.2 488.8,209.5 488.9,213.7 489.1,212.8 489.2,216.8 489.4,227.5 489.5,221.6 489.7,221.4 489.8,222.3 490.0,222.1 490.2,217.6 490.3,218.9 490.5,218.6 490.6,217.5 490.8,226.5 490.9,234.5 491.1,242.9 491.2,251.2 491.4,251.3 491.5,251.2 491.7,252.6 491.8,252.4 492.0,250.1 492.1,249.7 492.2,251.5 492.4,249.9 492.5,250.4 492.7,250.8 492.8,249.6 493.0,245.0 493.1,247.4 493.2,248.5 493.4,248.8 493.5,247.1 493.7,250.0 493.8,248.7 493.9,247.2 494.1,246.9 494.2,247.6 494.4,247.5 494.5,245.5 494.7,247.2 494.8,248.1 495.0,247.1 495.1,246.7 495.3,244.5 495.4,238.3 495.6,240.8 495.7,241.4 495.8,239.7 496.0,233.2 496.1,236.4 496.3,237.6 496.4,233.6 496.6,232.4 496.7,231.7 496.9,230.0 497.0,231.7 497.2,232.4 497.3,234.3 497.5,234.1 497.6,231.1 497.8,231.1 497.9,240.3 498.1,238.8 498.2,240.6 498.3,241.5 498.5,243.4 498.6,242.4 498.8,239.9 498.9,240.5 499.1,238.4 499.2,241.0 499.4,242.5 499.5,242.1 499.7,244.9 499.8,249.1 500.0,252.9 500.1,251.4 500.3,252.3 500.4,251.5 500.6,253.8 500.7,258.9 500.9,261.2 501.0,260.2 501.2,261.2 501.3,260.5 501.4,257.7 501.6,261.0 501.7,253.2 501.9,253.8 502.0,254.1 502.1,257.5 502.3,257.9 502.4,258.5 502.6,254.2 502.7,253.5 502.8,252.4 503.0,249.5 503.1,247.5 503.3,248.5 503.4,248.3 503.6,246.9 503.7,252.8 503.9,251.2 504.0,247.7 504.2,251.0 504.3,252.3 504.5,253.7 504.6,256.2 504.8,255.0 504.9,253.3 505.1,250.1 505.2,249.1 505.4,246.8 505.5,246.1 505.6,250.9 505.8,246.4 505.9,240.8 506.1,241.7 506.2,237.5 506.4,239.3 506.5,240.9 506.7,242.4 506.8,242.7 507.0,244.7 507.1,245.1 507.3,246.3 507.4,243.3 507.6,243.3 507.7,242.1 507.9,245.4 508.0,246.9 508.2,245.2 508.3,247.0 508.5,250.5 508.6,248.7 508.8,247.5 508.9,246.0 509.0,245.8 509.2,243.7 509.3,242.8 509.5,243.3 509.6,240.9 509.8,235.9 509.9,236.9 510.0,234.7 510.2,233.4 510.3,230.6 510.5,228.5 510.6,228.8 510.8,227.1 510.9,224.7 511.1,218.6 511.2,225.2 511.4,222.3 511.5,221.6 511.7,224.0 511.8,217.6 511.9,223.4 512.1,220.5 512.2,222.4 512.4,220.0 512.5,220.6 512.7,219.9 512.8,219.0 513.0,216.6 513.1,217.5 513.3,215.9 513.4,218.9 513.6,216.0 513.7,217.2 513.8,216.5 514.0,216.9 514.1,218.1 514.3,212.1 514.4,213.7 514.6,213.0 514.7,212.3 514.9,211.6 515.0,212.5 515.1,212.5 515.3,212.0 515.4,222.3 515.6,226.1 515.7,224.6 515.9,226.8 516.0,224.7 516.2,220.5 516.3,222.0 516.4,228.3 516.6,234.9 516.7,235.4 516.9,236.9 517.0,235.5 517.2,232.8 517.3,230.3 517.5,231.5 517.6,231.2 517.7,229.8 517.9,228.6 518.0,227.5 518.2,229.3 518.3,232.4 518.5,229.6 518.6,230.8 518.8,227.5 518.9,228.8 519.0,227.6 519.2,229.7 519.3,232.0 519.5,234.8 519.6,238.0 519.8,236.4 519.9,234.8 520.0,237.1 520.2,239.9 520.3,239.8 520.5,243.0 520.6,243.8 520.8,241.9 520.9,241.3 521.1,242.0 521.2,235.2 521.3,236.1 521.5,234.7 521.6,230.7 521.8,234.3 521.9,232.7 522.1,229.7 522.2,229.6 522.4,228.5 522.5,226.2 522.6,226.8 522.8,227.0 522.9,222.9 523.1,222.4 523.2,223.2 523.4,216.3 523.5,224.8 523.6,222.3 523.8,219.2 523.9,215.6 524.1,218.8 524.2,219.5 524.3,218.3 524.5,218.5 524.6,218.8 524.8,218.3 524.9,219.0 525.0,218.7 525.2,222.5 525.3,222.6 525.5,223.7 525.6,225.3 525.8,228.5 525.9,228.8 526.0,228.5 526.2,227.8 526.3,226.5 526.5,227.4 526.6,230.3 526.7,230.8 526.9,231.2 527.0,230.5 527.2,228.2 527.3,232.1 527.5,236.0 527.6,236.7 527.7,233.5 527.9,235.1 528.0,237.2 528.2,236.1 528.3,238.8 528.5,239.2 528.6,239.6 528.8,241.2 528.9,241.8 529.0,242.8 529.2,241.1 529.3,240.3 529.5,244.1 529.6,245.5 529.7,244.5 529.9,248.2 530.0,246.3 530.2,244.1 530.3,247.7 530.5,247.0 530.6,247.9 530.7,247.8 530.9,248.1 531.0,245.5 531.2,244.0 531.3,246.3 531.4,241.8 531.6,244.0 531.7,241.9 531.9,237.4 532.0,237.6 532.2,237.6 532.3,233.7 532.4,228.4 532.6,231.2 532.7,229.9 532.9,230.0 533.0,228.8 533.2,229.4 533.3,229.1 533.4,228.0 533.6,230.7 533.7,233.2 533.9,233.1 534.0,232.0 534.1,235.0 534.3,232.4 534.4,236.6 534.6,238.7 534.7,241.8 534.9,240.8 535.0,240.0 535.1,242.2 535.3,243.7 535.4,242.1 535.6,247.9 535.7,249.4 535.9,249.2 536.0,248.3 536.2,253.8 536.3,255.3 536.4,253.5 536.6,257.0 536.7,259.6 536.9,259.4 537.0,258.2 537.2,255.5 537.3,252.5 537.5,253.4 537.6,256.7 537.7,251.4 537.9,247.5 538.0,246.6 538.2,242.8 538.3,242.3 538.5,241.1 538.6,236.4 538.8,235.0 538.9,234.4 539.0,235.3 539.2,235.3 539.3,237.5 539.5,232.4 539.6,234.2 539.7,232.4 539.9,233.1 540.0,233.8 540.2,231.1 540.3,231.4 540.5,229.4 540.6,231.6 540.7,229.9 540.9,229.9 541.0,231.3 541.2,229.9 541.3,233.3 541.4,230.7 541.6,231.9 541.7,231.2 541.9,230.6 542.0,230.8 542.2,230.1 542.3,230.8 542.4,232.0 542.6,237.6 542.7,235.5 542.9,239.3 543.0,238.9 543.1,235.3 543.3,232.0 543.4,237.3 543.6,234.4 543.7,239.3 543.9,241.3 544.0,241.2 544.1,240.6 544.3,239.3 544.4,239.2 544.6,237.6 544.7,235.9 544.9,235.0 545.0,237.6 545.2,234.4 545.3,234.7 545.5,232.0 545.6,232.5 545.8,229.9 545.9,229.7 546.1,232.3 546.2,232.5 546.4,230.7 546.5,232.2 546.7,230.6 546.8,231.4 547.0,231.4 547.1,231.1 547.2,230.0"/>
<rect x="65.5" y="65.5" width="501" height="253" fill="none" stroke="#000" stroke-width="1" shape-rendering="crispEdges"/>
<text x="215.10" y="40.20" font-size="16" font-weight="bold" textLength="201" lengthAdjust="spacingAndGlyphs">SIX stock price time-series</text>
<text transform="translate(47.00,298.20) rotate(-90)" font-size="13.8" textLength="14" lengthAdjust="spacingAndGlyphs">10</text>
<text transform="translate(47.00,259.65) rotate(-90)" font-size="13.8" textLength="14" lengthAdjust="spacingAndGlyphs">20</text>
<text transform="translate(47.00,221.10) rotate(-90)" font-size="13.8" textLength="14" lengthAdjust="spacingAndGlyphs">30</text>
<text transform="translate(47.00,182.55) rotate(-90)" font-size="13.8" textLength="14" lengthAdjust="spacingAndGlyphs">40</text>
<text transform="translate(47.00,144.00) rotate(-90)" font-size="13.8" textLength="14" lengthAdjust="spacingAndGlyphs">50</text>
<text transform="translate(47.00,105.45) rotate(-90)" font-size="13.8" textLength="14" lengthAdjust="spacingAndGlyphs">60</text>
<path d="M57.0 290.5H65.5M57.0 252.5H65.5M57.0 213.5H65.5M57.0 175.5H65.5M57.0 136.5H65.5M57.0 98.5H65.5" stroke="#000" stroke-width="1" fill="none" shape-rendering="crispEdges"/>
<text x="57.70" y="348.20" font-size="13.8" textLength="28" lengthAdjust="spacingAndGlyphs">2010</text>
<text x="226.20" y="348.20" font-size="13.8" textLength="28" lengthAdjust="spacingAndGlyphs">2015</text>
<text x="394.70" y="348.20" font-size="13.8" textLength="28" lengthAdjust="spacingAndGlyphs">2020</text>
<path d="M71.5 318.5V326.5M240.5 318.5V326.5M408.5 318.5V326.5" stroke="#000" stroke-width="1" fill="none" shape-rendering="crispEdges"/>
<path d="M682 176v30h2v-30zM683 173v28h2v-28zM684 173v39h2v-39zM685 176v21h2v-21zM686 168v50h2v-50zM687 176v22h2v-22zM688 171v34h2v-34zM689 173v31h2v-31zM690 168v27h2v-27zM691 160v34h2v-34zM692 178v21h2v-21zM693 162v36h2v-36zM694 173v22h2v-22zM695 164v28h2v-28zM696 173v24h2v-24zM697 163v36h2v-36zM698 168v34h2v-34zM699 166v30h2v-30zM700 182v12h2v-12zM701 166v25h2v-25zM702 174v20h2v-20zM703 173v26h2v-26zM704 174v20h2v-20zM705 176v24h2v-24zM706 180v20h2v-20zM707 176v17h2v-17zM708 177v18h2v-18zM709 179v19h2v-19zM710 162v36h2v-36zM711 178v15h2v-15zM712 179v21h2v-21zM713 175v20h2v-20zM714 179v22h2v-22zM715 169v27h2v-27zM716 174v20h2v-20zM717 178v15h2v-15zM718 166v29h2v-29zM719 179v13h2v-13zM720 180v14h2v-14zM721 167v32h2v-32zM722 176v33h2v-33zM723 175v31h2v-31zM724 148v50h2v-50zM725 168v42h2v-42zM726 171v32h2v-32zM727 155v46h2v-46zM728 176v29h2v-29zM729 170v51h2v-51zM730 153v45h2v-45zM731 168v37h2v-37zM732 147v51h2v-51zM733 172v32h2v-32zM734 168v30h2v-30zM735 178v20h2v-20zM736 177v25h2v-25zM737 162v41h2v-41zM738 174v22h2v-22zM739 175v16h2v-16zM740 181v15h2v-15zM741 149v45h2v-45zM742 179v14h2v-14zM743 174v24h2v-24zM744 178v15h2v-15zM745 181v10h2v-10zM746 180v17h2v-17zM747 175v19h2v-19zM748 164v29h2v-29zM749 177v13h2v-13zM750 174v23h2v-23zM751 180v24h2v-24zM752 154v40h2v-40zM753 175v18h2v-18zM754 175v17h2v-17zM755 172v22h2v-22zM756 174v19h2v-19zM757 155v40h2v-40zM758 174v21h2v-21zM759 176v16h2v-16zM760 176v22h2v-22zM761 165v27h2v-27zM762 174v20h2v-20zM763 175v24h2v-24zM764 175v20h2v-20zM765 170v67h2v-67zM766 179v14h2v-14zM767 172v25h2v-25zM768 179v13h2v-13zM769 177v19h2v-19zM770 176v30h2v-30zM771 178v15h2v-15zM772 180v14h2v-14zM773 176v14h2v-14zM774 174v22h2v-22zM775 179v17h2v-17zM776 162v35h2v-35zM777 174v25h2v-25zM778 176v17h2v-17zM779 178v13h2v-13zM780 175v16h2v-16zM781 175v26h2v-26zM782 147v47h2v-47zM783 181v13h2v-13zM784 171v24h2v-24zM785 178v20h2v-20zM786 174v19h2v-19zM787 181v20h2v-20zM788 162v33h2v-33zM789 176v16h2v-16zM790 174v17h2v-17zM791 179v22h2v-22zM792 182v13h2v-13zM793 169v24h2v-24zM794 176v18h2v-18zM795 175v17h2v-17zM796 175v23h2v-23zM797 181v14h2v-14zM798 180v14h2v-14zM799 154v37h2v-37zM800 177v16h2v-16zM801 172v24h2v-24zM802 175v21h2v-21zM803 179v17h2v-17zM804 178v19h2v-19zM805 176v18h2v-18zM806 178v15h2v-15zM807 174v18h2v-18zM808 168v40h2v-40zM809 178v13h2v-13zM810 163v30h2v-30zM811 177v15h2v-15zM812 174v19h2v-19zM813 179v18h2v-18zM814 178v24h2v-24zM815 176v16h2v-16zM816 179v14h2v-14zM817 176v21h2v-21zM818 174v16h2v-16zM819 180v15h2v-15zM820 179v16h2v-16zM821 175v19h2v-19zM822 177v20h2v-20zM823 172v23h2v-23zM824 174v25h2v-25zM825 173v29h2v-29zM826 179v16h2v-16zM827 176v18h2v-18zM828 178v17h2v-17zM829 178v15h2v-15zM830 175v21h2v-21zM831 164v31h2v-31zM832 126v80h2v-80zM833 179v13h2v-13zM834 177v19h2v-19zM835 176v22h2v-22zM836 177v20h2v-20zM837 175v22h2v-22zM838 177v21h2v-21zM839 180v15h2v-15zM840 176v20h2v-20zM841 178v20h2v-20zM842 179v18h2v-18zM843 175v20h2v-20zM844 171v25h2v-25zM845 179v14h2v-14zM846 177v26h2v-26zM847 175v17h2v-17zM848 176v14h2v-14zM849 178v15h2v-15zM850 172v37h2v-37zM851 179v19h2v-19zM852 181v13h2v-13zM853 177v18h2v-18zM854 172v24h2v-24zM855 181v14h2v-14zM856 176v18h2v-18zM857 177v22h2v-22zM858 177v21h2v-21zM859 175v23h2v-23zM860 178v17h2v-17zM861 166v40h2v-40zM862 179v15h2v-15zM863 180v12h2v-12zM864 171v34h2v-34zM865 179v20h2v-20zM866 180v13h2v-13zM867 175v20h2v-20zM868 178v18h2v-18zM869 175v21h2v-21zM870 181v9h2v-9zM871 173v25h2v-25zM872 177v16h2v-16zM873 182v11h2v-11zM874 175v37h2v-37zM875 170v25h2v-25zM876 174v20h2v-20zM877 164v33h2v-33zM878 177v22h2v-22zM879 177v20h2v-20zM880 180v13h2v-13zM881 162v29h2v-29zM882 175v19h2v-19zM883 164v29h2v-29zM884 180v13h2v-13zM885 175v19h2v-19zM886 179v13h2v-13zM887 177v14h2v-14zM888 177v16h2v-16zM889 171v20h2v-20zM890 175v21h2v-21zM891 175v19h2v-19zM892 179v30h2v-30zM893 175v23h2v-23zM894 175v18h2v-18zM895 179v18h2v-18zM896 166v32h2v-32zM897 176v23h2v-23zM898 178v18h2v-18zM899 176v16h2v-16zM900 161v29h2v-29zM901 177v18h2v-18zM902 174v27h2v-27zM903 175v16h2v-16zM904 177v16h2v-16zM905 179v19h2v-19zM906 182v16h2v-16zM907 178v14h2v-14zM908 176v22h2v-22zM909 174v19h2v-19zM910 174v21h2v-21zM911 175v28h2v-28zM912 177v16h2v-16zM913 179v15h2v-15zM914 179v16h2v-16zM915 172v26h2v-26zM916 177v20h2v-20zM917 160v41h2v-41zM918 178v13h2v-13zM919 179v16h2v-16zM920 176v20h2v-20zM921 181v18h2v-18zM922 171v24h2v-24zM923 177v16h2v-16zM924 176v19h2v-19zM925 156v50h2v-50zM926 178v16h2v-16zM927 174v21h2v-21zM928 172v21h2v-21zM929 175v25h2v-25zM930 164v30h2v-30zM931 181v12h2v-12zM932 180v17h2v-17zM933 176v23h2v-23zM934 171v25h2v-25zM935 177v18h2v-18zM936 177v17h2v-17zM937 176v19h2v-19zM938 180v17h2v-17zM939 175v19h2v-19zM940 180v17h2v-17zM941 175v20h2v-20zM942 176v17h2v-17zM943 180v17h2v-17zM944 171v22h2v-22zM945 182v27h2v-27zM946 177v20h2v-20zM947 174v20h2v-20zM948 181v18h2v-18zM949 176v26h2v-26zM950 178v21h2v-21zM951 145v52h2v-52zM952 175v19h2v-19zM953 181v13h2v-13zM954 176v22h2v-22zM955 170v26h2v-26zM956 178v15h2v-15zM957 178v17h2v-17zM958 178v32h2v-32zM959 176v18h2v-18zM960 174v20h2v-20zM961 179v19h2v-19zM962 181v17h2v-17zM963 164v34h2v-34zM964 178v18h2v-18zM965 181v13h2v-13zM966 171v19h2v-19zM967 175v97h2v-97zM968 181v10h2v-10zM969 166v32h2v-32zM970 179v21h2v-21zM971 176v25h2v-25zM972 174v25h2v-25zM973 162v40h2v-40zM974 178v14h2v-14zM975 177v18h2v-18zM976 179v15h2v-15zM977 178v14h2v-14zM978 177v78h2v-78zM979 179v13h2v-13zM980 175v30h2v-30zM981 169v25h2v-25zM982 179v18h2v-18zM983 180v15h2v-15zM984 177v16h2v-16zM985 173v25h2v-25zM986 176v19h2v-19zM987 180v16h2v-16zM988 180v15h2v-15zM989 163v40h2v-40zM990 179v15h2v-15zM991 164v31h2v-31zM992 180v17h2v-17zM993 175v43h2v-43zM994 175v23h2v-23zM995 171v21h2v-21zM996 176v18h2v-18zM997 177v23h2v-23zM998 175v18h2v-18zM999 172v21h2v-21zM1000 176v18h2v-18zM1001 175v77h2v-77zM1002 174v24h2v-24zM1003 171v23h2v-23zM1004 175v18h2v-18zM1005 177v21h2v-21zM1006 178v19h2v-19zM1007 166v40h2v-40zM1008 179v103h2v-103zM1009 151v51h2v-51zM1010 176v26h2v-26zM1011 175v29h2v-29zM1012 172v101h2v-101zM1013 163v71h2v-71zM1014 86v224h2v-224zM1015 80v212h2v-212zM1016 159v52h2v-52zM1017 126v113h2v-113zM1018 159v56h2v-56zM1019 130v104h2v-104zM1020 92v121h2v-121zM1021 139v109h2v-109zM1022 153v73h2v-73zM1023 146v96h2v-96zM1024 156v75h2v-75zM1025 124v91h2v-91zM1026 164v46h2v-46zM1027 146v72h2v-72zM1028 151v61h2v-61zM1029 168v42h2v-42zM1030 162v61h2v-61zM1031 142v64h2v-64zM1032 167v58h2v-58zM1033 155v43h2v-43zM1034 170v36h2v-36zM1035 167v57h2v-57zM1036 99v103h2v-103zM1037 163v45h2v-45zM1038 145v67h2v-67zM1039 170v33h2v-33zM1040 172v31h2v-31zM1041 146v63h2v-63zM1042 171v40h2v-40zM1043 170v46h2v-46zM1044 132v80h2v-80zM1045 163v51h2v-51zM1046 168v44h2v-44zM1047 158v41h2v-41zM1048 171v35h2v-35zM1049 169v40h2v-40zM1050 161v41h2v-41zM1051 160v42h2v-42zM1052 175v28h2v-28zM1053 165v49h2v-49zM1054 161v50h2v-50zM1055 171v45h2v-45zM1056 165v44h2v-44zM1057 166v41h2v-41zM1058 172v41h2v-41zM1059 166v37h2v-37zM1060 148v82h2v-82zM1061 174v30h2v-30zM1062 165v34h2v-34zM1063 156v54h2v-54zM1064 170v36h2v-36zM1065 171v37h2v-37zM1066 151v52h2v-52zM1067 171v30h2v-30zM1068 164v34h2v-34zM1069 163v66h2v-66zM1070 166v45h2v-45zM1071 151v55h2v-55zM1072 173v34h2v-34zM1073 166v40h2v-40zM1074 158v47h2v-47zM1075 175v23h2v-23zM1076 177v25h2v-25zM1077 170v30h2v-30zM1078 169v41h2v-41zM1079 161v48h2v-48zM1080 164v35h2v-35zM1081 171v73h2v-73zM1082 154v49h2v-49zM1083 166v43h2v-43zM1084 158v52h2v-52zM1085 170v33h2v-33zM1086 165v47h2v-47zM1087 169v69h2v-69zM1088 155v60h2v-60zM1089 158v44h2v-44zM1090 168v84h2v-84zM1091 144v75h2v-75zM1092 165v39h2v-39zM1093 156v67h2v-67zM1094 155v54h2v-54zM1095 122v163h2v-163zM1096 168v34h2v-34zM1097 148v73h2v-73zM1098 170v30h2v-30zM1099 162v68h2v-68zM1100 141v71h2v-71zM1101 165v53h2v-53zM1102 164v48h2v-48zM1103 169v51h2v-51zM1104 123v79h2v-79zM1105 162v47h2v-47zM1106 166v50h2v-50zM1107 158v56h2v-56zM1108 131v78h2v-78zM1109 166v39h2v-39zM1110 159v43h2v-43zM1111 156v45h2v-45zM1112 177v29h2v-29zM1113 151v53h2v-53zM1114 150v60h2v-60zM1115 171v39h2v-39zM1116 161v50h2v-50zM1117 161v42h2v-42zM1118 174v32h2v-32zM1119 169v37h2v-37zM1120 101v108h2v-108zM1121 172v31h2v-31zM1122 171v33h2v-33zM1123 155v51h2v-51zM1124 174v31h2v-31zM1125 173v32h2v-32zM1126 167v33h2v-33zM1127 165v39h2v-39zM1128 166v40h2v-40zM1129 167v41h2v-41zM1130 165v41h2v-41zM1131 166v32h2v-32zM1132 162v47h2v-47zM1133 166v34h2v-34zM1134 170v34h2v-34zM1135 165v58h2v-58zM1136 175v26h2v-26zM1137 151v51h2v-51zM1138 169v36h2v-36zM1139 172v25h2v-25zM1140 165v29h2v-29zM1141 170v35h2v-35zM1142 170v25h2v-25zM1143 176v27h2v-27zM1144 171v33h2v-33zM1145 166v41h2v-41zM1146 174v30h2v-30zM1147 171v27h2v-27z" fill="#0000FF" shape-rendering="crispEdges"/>
<path d="M683 174v22h1v-22zM684 180v17h1v-17zM685 178v19h1v-19zM686 170v24h1v-24zM687 178v16h1v-16zM688 174v30h1v-30zM689 177v17h1v-17zM690 171v26h1v-26zM691 179v17h1v-17zM692 178v23h1v-23zM693 179v15h1v-15zM694 179v14h1v-14zM695 178v20h1v-20zM696 180v11h1v-11zM697 183v10h1v-10zM698 177v13h1v-13zM699 178v13h1v-13zM700 181v11h1v-11zM701 181v8h1v-8zM702 180v12h1v-12zM703 181v9h1v-9zM704 180v14h1v-14zM705 181v8h1v-8zM706 179v15h1v-15zM707 182v8h1v-8zM708 180v13h1v-13zM709 178v13h1v-13zM710 178v14h1v-14zM711 178v14h1v-14zM712 182v12h1v-12zM713 179v12h1v-12zM714 179v12h1v-12zM715 180v9h1v-9zM716 181v10h1v-10zM717 178v15h1v-15zM718 182v12h1v-12zM719 179v14h1v-14zM720 179v15h1v-15zM721 182v9h1v-9zM722 178v14h1v-14zM723 178v15h1v-15zM724 174v26h1v-26zM725 177v44h1v-44zM726 163v32h1v-32zM727 173v30h1v-30zM728 172v26h1v-26zM729 175v25h1v-25zM730 171v30h1v-30zM731 175v27h1v-27zM732 171v24h1v-24zM733 175v21h1v-21zM734 175v29h1v-29zM735 175v26h1v-26zM736 166v34h1v-34zM737 175v24h1v-24zM738 179v11h1v-11zM739 179v10h1v-10zM740 182v10h1v-10zM741 183v7h1v-7zM742 178v15h1v-15zM743 181v10h1v-10zM744 178v14h1v-14zM745 181v12h1v-12zM746 179v10h1v-10zM747 179v12h1v-12zM748 181v13h1v-13zM749 179v11h1v-11zM750 181v10h1v-10zM751 181v12h1v-12zM752 182v10h1v-10zM753 178v14h1v-14zM754 180v12h1v-12zM755 174v24h1v-24zM756 182v7h1v-7zM757 179v12h1v-12zM758 179v10h1v-10zM759 180v14h1v-14zM760 182v8h1v-8zM761 183v8h1v-8zM762 182v9h1v-9zM763 183v10h1v-10zM764 180v8h1v-8zM765 179v12h1v-12zM766 182v8h1v-8zM767 182v9h1v-9zM768 179v14h1v-14zM769 182v10h1v-10zM770 181v11h1v-11zM771 178v13h1v-13zM772 180v14h1v-14zM773 174v20h1v-20zM774 180v11h1v-11zM775 183v8h1v-8zM776 181v9h1v-9zM777 183v9h1v-9zM778 179v12h1v-12zM779 179v14h1v-14zM780 183v6h1v-6zM781 183v9h1v-9zM782 181v11h1v-11zM783 180v9h1v-9zM784 181v8h1v-8zM785 180v10h1v-10zM786 180v12h1v-12zM787 181v8h1v-8zM788 181v12h1v-12zM789 179v13h1v-13zM790 181v8h1v-8zM791 182v7h1v-7zM792 181v10h1v-10zM793 181v10h1v-10zM794 182v7h1v-7zM795 181v12h1v-12zM796 180v12h1v-12zM797 180v13h1v-13zM798 182v11h1v-11zM799 181v12h1v-12zM800 180v13h1v-13zM801 182v10h1v-10zM802 180v12h1v-12zM803 181v11h1v-11zM804 182v10h1v-10zM805 181v10h1v-10zM806 180v11h1v-11zM807 180v11h1v-11zM808 180v11h1v-11zM809 180v12h1v-12zM810 181v10h1v-10zM811 180v9h1v-9zM812 182v11h1v-11zM813 179v11h1v-11zM814 178v14h1v-14zM815 179v11h1v-11zM816 179v11h1v-11zM817 181v10h1v-10zM818 182v9h1v-9zM819 182v8h1v-8zM820 181v11h1v-11zM821 180v12h1v-12zM822 178v16h1v-16zM823 182v12h1v-12zM824 182v7h1v-7zM825 179v13h1v-13zM826 181v10h1v-10zM827 179v10h1v-10zM828 181v10h1v-10zM829 182v8h1v-8zM830 179v12h1v-12zM831 179v11h1v-11zM832 178v16h1v-16zM833 180v13h1v-13zM834 183v10h1v-10zM835 181v9h1v-9zM836 179v14h1v-14zM837 180v11h1v-11zM838 182v8h1v-8zM839 179v15h1v-15zM840 174v19h1v-19zM841 180v13h1v-13zM842 180v10h1v-10zM843 179v14h1v-14zM844 181v8h1v-8zM845 181v11h1v-11zM846 180v14h1v-14zM847 182v11h1v-11zM848 182v11h1v-11zM849 183v8h1v-8zM850 180v13h1v-13zM851 180v10h1v-10zM852 182v11h1v-11zM853 181v8h1v-8zM854 179v10h1v-10zM855 180v12h1v-12zM856 178v16h1v-16zM857 181v9h1v-9zM858 178v14h1v-14zM859 181v11h1v-11zM860 183v7h1v-7zM861 178v15h1v-15zM862 166v38h1v-38zM863 175v21h1v-21zM864 175v23h1v-23zM865 180v19h1v-19zM866 174v19h1v-19zM867 183v9h1v-9zM868 179v13h1v-13zM869 182v8h1v-8zM870 180v12h1v-12zM871 180v12h1v-12zM872 179v14h1v-14zM873 182v10h1v-10zM874 182v9h1v-9zM875 183v10h1v-10zM876 180v11h1v-11zM877 176v16h1v-16zM878 178v13h1v-13zM879 180v14h1v-14zM880 180v13h1v-13zM881 180v11h1v-11zM882 180v9h1v-9zM883 181v10h1v-10zM884 179v11h1v-11zM885 181v9h1v-9zM886 180v11h1v-11zM887 180v13h1v-13zM888 181v11h1v-11zM889 180v10h1v-10zM890 179v25h1v-25zM891 181v13h1v-13zM892 178v13h1v-13zM893 180v12h1v-12zM894 181v10h1v-10zM895 178v13h1v-13zM896 179v11h1v-11zM897 181v8h1v-8zM898 180v12h1v-12zM899 181v12h1v-12zM900 182v12h1v-12zM901 181v11h1v-11zM902 181v9h1v-9zM903 180v10h1v-10zM904 182v8h1v-8zM905 179v12h1v-12zM906 180v10h1v-10zM907 179v14h1v-14zM908 179v11h1v-11zM909 181v9h1v-9zM910 180v14h1v-14zM911 180v10h1v-10zM912 181v12h1v-12zM913 181v12h1v-12zM914 180v12h1v-12zM915 181v9h1v-9zM916 179v12h1v-12zM917 181v8h1v-8zM918 182v12h1v-12zM919 180v14h1v-14zM920 178v10h1v-10zM921 178v14h1v-14zM922 182v8h1v-8zM923 179v9h1v-9zM924 179v13h1v-13zM925 181v10h1v-10zM926 182v9h1v-9zM927 182v7h1v-7zM928 179v13h1v-13zM929 183v7h1v-7zM930 182v9h1v-9zM931 181v12h1v-12zM932 181v9h1v-9zM933 181v13h1v-13zM934 179v11h1v-11zM935 181v10h1v-10zM936 181v9h1v-9zM937 179v10h1v-10zM938 180v11h1v-11zM939 183v9h1v-9zM940 181v9h1v-9zM941 181v9h1v-9zM942 180v12h1v-12zM943 178v13h1v-13zM944 178v28h1v-28zM945 177v19h1v-19zM946 179v19h1v-19zM947 178v13h1v-13zM948 179v15h1v-15zM949 172v21h1v-21zM950 176v15h1v-15zM951 182v16h1v-16zM952 178v15h1v-15zM953 182v10h1v-10zM954 182v8h1v-8zM955 183v7h1v-7zM956 179v13h1v-13zM957 182v8h1v-8zM958 181v8h1v-8zM959 183v9h1v-9zM960 182v8h1v-8zM961 183v8h1v-8zM962 179v11h1v-11zM963 180v13h1v-13zM964 179v13h1v-13zM965 180v13h1v-13zM966 179v11h1v-11zM967 176v17h1v-17zM968 176v20h1v-20zM969 176v19h1v-19zM970 174v25h1v-25zM971 181v17h1v-17zM972 179v23h1v-23zM973 175v19h1v-19zM974 162v37h1v-37zM975 174v20h1v-20zM976 175v18h1v-18zM977 180v10h1v-10zM978 180v13h1v-13zM979 178v15h1v-15zM980 182v8h1v-8zM981 178v14h1v-14zM982 180v11h1v-11zM983 179v9h1v-9zM984 179v11h1v-11zM985 183v9h1v-9zM986 181v9h1v-9zM987 178v15h1v-15zM988 179v14h1v-14zM989 182v7h1v-7zM990 179v14h1v-14zM991 181v8h1v-8zM992 180v12h1v-12zM993 180v10h1v-10zM994 183v6h1v-6zM995 182v8h1v-8zM996 181v9h1v-9zM997 182v12h1v-12zM998 181v10h1v-10zM999 179v12h1v-12zM1000 183v8h1v-8zM1001 184v9h1v-9zM1002 181v10h1v-10zM1003 178v13h1v-13zM1004 181v8h1v-8zM1005 181v8h1v-8zM1006 180v11h1v-11zM1007 182v9h1v-9zM1008 181v13h1v-13zM1009 181v12h1v-12zM1010 181v11h1v-11zM1011 181v11h1v-11zM1012 178v13h1v-13zM1013 176v25h1v-25zM1014 174v44h1v-44zM1015 151v67h1v-67zM1016 141v108h1v-108zM1017 150v63h1v-63zM1018 169v52h1v-52zM1019 166v50h1v-50zM1020 172v29h1v-29zM1021 178v22h1v-22zM1022 174v22h1v-22zM1023 176v27h1v-27zM1024 169v47h1v-47zM1025 172v28h1v-28zM1026 170v27h1v-27zM1027 175v21h1v-21zM1028 178v12h1v-12zM1029 182v10h1v-10zM1030 176v17h1v-17zM1031 176v19h1v-19zM1032 178v16h1v-16zM1033 183v10h1v-10zM1034 180v13h1v-13zM1035 182v13h1v-13zM1036 176v19h1v-19zM1037 180v12h1v-12zM1038 182v12h1v-12zM1039 181v11h1v-11zM1040 183v11h1v-11zM1041 182v12h1v-12zM1042 180v9h1v-9zM1043 182v10h1v-10zM1044 181v11h1v-11zM1045 182v10h1v-10zM1046 180v12h1v-12zM1047 180v12h1v-12zM1048 181v10h1v-10zM1049 179v14h1v-14zM1050 179v15h1v-15zM1051 184v7h1v-7zM1052 179v11h1v-11zM1053 179v12h1v-12zM1054 181v10h1v-10zM1055 179v13h1v-13zM1056 182v8h1v-8zM1057 179v15h1v-15zM1058 181v11h1v-11zM1059 178v13h1v-13zM1060 180v12h1v-12zM1061 178v12h1v-12zM1062 179v13h1v-13zM1063 181v12h1v-12zM1064 181v10h1v-10zM1065 182v8h1v-8zM1066 181v10h1v-10zM1067 182v7h1v-7zM1068 179v12h1v-12zM1069 181v11h1v-11zM1070 181v10h1v-10zM1071 181v11h1v-11zM1072 183v9h1v-9zM1073 182v10h1v-10zM1074 181v10h1v-10zM1075 181v11h1v-11zM1076 177v18h1v-18zM1077 173v23h1v-23zM1078 171v26h1v-26zM1079 176v22h1v-22zM1080 176v22h1v-22zM1081 175v26h1v-26zM1082 177v17h1v-17zM1083 171v29h1v-29zM1084 174v17h1v-17zM1085 178v19h1v-19zM1086 177v17h1v-17zM1087 174v17h1v-17zM1088 178v19h1v-19zM1089 178v20h1v-20zM1090 172v33h1v-33zM1091 174v25h1v-25zM1092 178v18h1v-18zM1093 168v26h1v-26zM1094 178v19h1v-19zM1095 178v19h1v-19zM1096 177v19h1v-19zM1097 172v22h1v-22zM1098 178v17h1v-17zM1099 173v34h1v-34zM1100 174v25h1v-25zM1101 172v27h1v-27zM1102 171v25h1v-25zM1103 173v24h1v-24zM1104 179v13h1v-13zM1105 159v31h1v-31zM1106 159v39h1v-39zM1107 180v16h1v-16zM1108 179v11h1v-11zM1109 181v13h1v-13zM1110 180v12h1v-12zM1111 180v13h1v-13zM1112 180v11h1v-11zM1113 180v9h1v-9zM1114 181v10h1v-10zM1115 180v13h1v-13zM1116 182v12h1v-12zM1117 178v18h1v-18zM1118 181v14h1v-14zM1119 181v10h1v-10zM1120 179v15h1v-15zM1121 182v9h1v-9zM1122 181v10h1v-10zM1123 181v10h1v-10zM1124 181v10h1v-10zM1125 182v9h1v-9zM1126 183v8h1v-8zM1127 180v12h1v-12zM1128 182v10h1v-10zM1129 180v10h1v-10zM1130 181v9h1v-9zM1131 181v11h1v-11zM1132 182v9h1v-9zM1133 178v10h1v-10zM1134 181v9h1v-9zM1135 178v16h1v-16zM1136 182v8h1v-8zM1137 181v10h1v-10zM1138 178v11h1v-11zM1139 181v10h1v-10zM1140 182v11h1v-11zM1141 179v10h1v-10zM1142 180v11h1v-11zM1143 179v13h1v-13zM1144 184v8h1v-8zM1145 179v13h1v-13zM1146 180v13h1v-13zM1147 181v12h1v-12zM1148 181v12h1v-12z" fill="#FFFF00" shape-rendering="crispEdges"/>
<rect x="665.5" y="65.5" width="501" height="253" fill="none" stroke="#000" stroke-width="1" shape-rendering="crispEdges"/>
<text x="750.60" y="40.20" font-size="16" font-weight="bold" textLength="330" lengthAdjust="spacingAndGlyphs">SIX versus S&amp;P500 stock return time-series</text>
<text transform="translate(647.00,96.60) rotate(-90)" font-size="13.8" textLength="18" lengthAdjust="spacingAndGlyphs">0.2</text>
<text transform="translate(647.00,145.95) rotate(-90)" font-size="13.8" textLength="18" lengthAdjust="spacingAndGlyphs">0.1</text>
<text transform="translate(647.00,195.30) rotate(-90)" font-size="13.8" textLength="18" lengthAdjust="spacingAndGlyphs">0.0</text>
<text transform="translate(647.00,246.65) rotate(-90)" font-size="13.8" textLength="22" lengthAdjust="spacingAndGlyphs">-0.1</text>
<text transform="translate(647.00,296.00) rotate(-90)" font-size="13.8" textLength="22" lengthAdjust="spacingAndGlyphs">-0.2</text>
<path d="M657.0 87.5H665.5M657.0 136.5H665.5M657.0 186.5H665.5M657.0 235.5H665.5M657.0 284.5H665.5" stroke="#000" stroke-width="1" fill="none" shape-rendering="crispEdges"/>
<text x="657.70" y="348.20" font-size="13.8" textLength="28" lengthAdjust="spacingAndGlyphs">2010</text>
<text x="826.20" y="348.20" font-size="13.8" textLength="28" lengthAdjust="spacingAndGlyphs">2015</text>
<text x="994.70" y="348.20" font-size="13.8" textLength="28" lengthAdjust="spacingAndGlyphs">2020</text>
<path d="M671.5 318.5V326.5M840.5 318.5V326.5M1008.5 318.5V326.5" stroke="#000" stroke-width="1" fill="none" shape-rendering="crispEdges"/>
<rect x="1002.5" y="65.5" width="164" height="48" fill="#fff" stroke="#000" stroke-width="1" shape-rendering="crispEdges"/>
<path d="M1014 81H1039" stroke="#0000FF" stroke-width="2" shape-rendering="crispEdges"/>
<path d="M1014 97.5H1039" stroke="#FFFF00" stroke-width="1" shape-rendering="crispEdges"/>
<text x="1050.20" y="87.00" font-size="13.8" textLength="19.5" lengthAdjust="spacingAndGlyphs">SIX</text>
<text x="1073.70" y="87.00" font-size="13.8" textLength="68" lengthAdjust="spacingAndGlyphs">stock return</text>
<text x="1050.50" y="103.00" font-size="13.8" textLength="109" lengthAdjust="spacingAndGlyphs">GSPC stock return</text>
<polyline fill="none" stroke="#228B22" stroke-width="2" shape-rendering="crispEdges" points="76.2,708.6 198.0,708.6 199.0,707.8 205.0,707.8 206.0,708.6 213.0,708.6 214.0,707.8 228.0,707.8 229.0,708.6 234.0,708.6 235.0,707.8 259.0,707.8 261.0,707.2 270.0,707.0 274.5,706.6 277.0,705.6 281.0,703.8 284.0,703.3 287.5,702.8 291.3,700.3 294.0,697.3 298.3,691.4 302.0,687.6 306.7,683.3 307.9,675.4 311.4,665.8 316.7,652.7 319.3,639.5 321.9,622.9 324.5,611.5 326.3,607.4 327.7,606.0 329.2,607.6 330.7,611.5 334.2,624.7 337.7,643.0 342.0,660.5 347.3,674.6 351.7,685.1 353.8,693.0 355.5,695.4 358.7,697.4 362.5,698.6 368.3,701.0 373.3,702.8 377.1,704.0 384.2,705.6 390.0,706.3 399.3,707.3 404.0,708.0 410.0,708.6 425.0,708.6 433.0,708.6 433.5,707.8 436.0,707.8 436.5,708.6 448.7,708.6 449.0,707.8 453.5,707.8 454.0,708.6 492.5,708.6 493.0,707.6 494.7,707.6 495.0,708.6 555.8,708.6"/>
<polyline fill="none" stroke="#FFA500" stroke-width="1" shape-rendering="crispEdges" points="255.0,709.5 275.5,709.2 276.0,708.5 284.3,708.3 291.3,706.9 298.3,704.8 304.4,700.5 308.8,692.6 312.3,680.3 315.8,668.0 318.4,649.7 320.2,631.3 321.9,609.4 323.0,596.5 324.0,568.5 325.0,540.5 326.0,512.5 326.9,485.5 327.0,481.5 327.4,479.5 328.0,481.5 328.6,486.5 329.0,491.5 330.0,519.5 331.0,537.5 332.0,554.5 333.0,578.5 334.0,592.5 335.0,600.5 336.8,615.5 338.5,640.0 340.6,661.0 342.9,680.3 345.2,692.6 346.2,695.7 348.2,699.6 351.7,704.3 353.4,705.3 357.8,706.9 359.2,707.1 362.5,709.1 363.0,709.5 365.5,709.5 365.8,708.5 375.5,708.5 375.7,709.5 383.0,709.5 383.2,708.5 386.8,708.5 387.0,709.5 413.2,709.5 413.4,708.5 416.2,708.5 416.4,709.5 430.0,709.5"/>
<path d="M65.5 709.5H566.5" stroke="#BEBEBE" stroke-width="1" shape-rendering="crispEdges"/>
<rect x="65.5" y="465.5" width="501" height="253" fill="none" stroke="#000" stroke-width="1" shape-rendering="crispEdges"/>
<text x="148.60" y="440.20" font-size="16" font-weight="bold" textLength="334" lengthAdjust="spacingAndGlyphs">SIX versus S&amp;P500 stock return distribution</text>
<text transform="translate(47.00,713.30) rotate(-90)" font-size="13.8" textLength="7" lengthAdjust="spacingAndGlyphs">0</text>
<text transform="translate(47.00,679.80) rotate(-90)" font-size="13.8" textLength="14" lengthAdjust="spacingAndGlyphs">10</text>
<text transform="translate(47.00,643.80) rotate(-90)" font-size="13.8" textLength="14" lengthAdjust="spacingAndGlyphs">20</text>
<text transform="translate(47.00,607.80) rotate(-90)" font-size="13.8" textLength="14" lengthAdjust="spacingAndGlyphs">30</text>
<text transform="translate(47.00,570.80) rotate(-90)" font-size="13.8" textLength="14" lengthAdjust="spacingAndGlyphs">40</text>
<text transform="translate(47.00,534.80) rotate(-90)" font-size="13.8" textLength="14" lengthAdjust="spacingAndGlyphs">50</text>
<text transform="translate(47.00,497.80) rotate(-90)" font-size="13.8" textLength="14" lengthAdjust="spacingAndGlyphs">60</text>
<path d="M57.0 709.5H65.5M57.0 672.5H65.5M57.0 636.5H65.5M57.0 600.5H65.5M57.0 563.5H65.5M57.0 527.5H65.5M57.0 490.5H65.5" stroke="#000" stroke-width="1" fill="none" shape-rendering="crispEdges"/>
<text x="121.95" y="748.20" font-size="13.8" textLength="22" lengthAdjust="spacingAndGlyphs">-0.2</text>
<text x="219.45" y="748.20" font-size="13.8" textLength="22" lengthAdjust="spacingAndGlyphs">-0.1</text>
<text x="318.95" y="748.20" font-size="13.8" textLength="18" lengthAdjust="spacingAndGlyphs">0.0</text>
<text x="416.45" y="748.20" font-size="13.8" textLength="18" lengthAdjust="spacingAndGlyphs">0.1</text>
<text x="513.95" y="748.20" font-size="13.8" textLength="18" lengthAdjust="spacingAndGlyphs">0.2</text>
<path d="M132.5 718.5V726.5M230.5 718.5V726.5M327.5 718.5V726.5M425.5 718.5V726.5M522.5 718.5V726.5" stroke="#000" stroke-width="1" fill="none" shape-rendering="crispEdges"/>
<rect x="65.5" y="465.5" width="195" height="48" fill="#fff" stroke="#000" stroke-width="1" shape-rendering="crispEdges"/>
<path d="M77 481H102" stroke="#228B22" stroke-width="2" shape-rendering="crispEdges"/>
<path d="M77 497.5H102" stroke="#FFA500" stroke-width="1" shape-rendering="crispEdges"/>
<text x="113.20" y="487.00" font-size="13.8" textLength="19.5" lengthAdjust="spacingAndGlyphs">SIX</text>
<text x="136.70" y="487.00" font-size="13.8" textLength="100" lengthAdjust="spacingAndGlyphs">return distribution</text>
<text x="113.50" y="503.00" font-size="13.8" textLength="141" lengthAdjust="spacingAndGlyphs">GSPC return distribution</text>
<clipPath id="c4"><rect x="665" y="465" width="502" height="254"/></clipPath>
<g clip-path="url(#c4)" shape-rendering="crispEdges" stroke="#000" stroke-width="1">
<path d="M683.0 716.5H690.0" fill="none"/>
<path d="M689.0 716.5H695.0" fill="none"/>
<path d="M699.0 716.5H705.0" fill="none"/>
<path d="M704.0 716.5H710.0" fill="none"/>
<path d="M715.0 716.5H721.0" fill="none"/>
<path d="M720.0 716.5H726.0" fill="none"/>
<rect x="730.5" y="715.5" width="6.0" height="1.0" fill="#0000FF"/>
<path d="M736.0 716.5H742.0" fill="none"/>
<rect x="746.5" y="715.5" width="5.0" height="1.0" fill="#0000FF"/>
<path d="M751.0 716.5H757.0" fill="none"/>
<path d="M762.0 716.5H768.0" fill="none"/>
<path d="M767.0 716.5H773.0" fill="none"/>
<rect x="777.5" y="715.5" width="5.0" height="1.0" fill="#0000FF"/>
<path d="M782.0 716.5H789.0" fill="none"/>
<rect x="793.5" y="715.5" width="5.0" height="1.0" fill="#0000FF"/>
<path d="M798.0 716.5H804.0" fill="none"/>
<rect x="809.5" y="715.5" width="5.0" height="1.0" fill="#0000FF"/>
<path d="M814.0 716.5H820.0" fill="none"/>
<rect x="824.5" y="715.5" width="5.0" height="1.0" fill="#0000FF"/>
<path d="M829.0 716.5H836.0" fill="none"/>
<rect x="840.5" y="714.5" width="5.0" height="2.0" fill="#0000FF"/>
<path d="M845.0 716.5H851.0" fill="none"/>
<rect x="855.5" y="713.5" width="6.0" height="3.0" fill="#0000FF"/>
<rect x="861.5" y="715.5" width="5.0" height="1.0" fill="#FFFF00"/>
<rect x="871.5" y="710.5" width="5.0" height="6.0" fill="#0000FF"/>
<rect x="876.5" y="715.5" width="6.0" height="1.0" fill="#FFFF00"/>
<rect x="887.5" y="696.5" width="5.0" height="20.0" fill="#0000FF"/>
<rect x="892.5" y="710.5" width="5.0" height="6.0" fill="#FFFF00"/>
<rect x="902.5" y="654.5" width="6.0" height="62.0" fill="#0000FF"/>
<rect x="908.5" y="684.5" width="5.0" height="32.0" fill="#FFFF00"/>
<rect x="918.5" y="556.5" width="5.0" height="160.0" fill="#0000FF"/>
<rect x="923.5" y="440.5" width="5.0" height="276.0" fill="#FFFF00"/>
<rect x="934.5" y="601.5" width="5.0" height="115.0" fill="#0000FF"/>
<rect x="939.5" y="590.5" width="5.0" height="126.0" fill="#FFFF00"/>
<rect x="949.5" y="681.5" width="6.0" height="35.0" fill="#0000FF"/>
<rect x="955.5" y="706.5" width="5.0" height="10.0" fill="#FFFF00"/>
<rect x="965.5" y="703.5" width="5.0" height="13.0" fill="#0000FF"/>
<rect x="970.5" y="715.5" width="5.0" height="1.0" fill="#FFFF00"/>
<rect x="981.5" y="710.5" width="5.0" height="6.0" fill="#0000FF"/>
<rect x="986.5" y="715.5" width="5.0" height="1.0" fill="#FFFF00"/>
<rect x="996.5" y="713.5" width="5.0" height="3.0" fill="#0000FF"/>
<path d="M1001.0 716.5H1008.0" fill="none"/>
<rect x="1012.5" y="715.5" width="5.0" height="1.0" fill="#0000FF"/>
<rect x="1017.5" y="715.5" width="5.0" height="1.0" fill="#FFFF00"/>
<rect x="1028.5" y="715.5" width="5.0" height="1.0" fill="#0000FF"/>
<path d="M1033.0 716.5H1039.0" fill="none"/>
<rect x="1043.5" y="715.5" width="5.0" height="1.0" fill="#0000FF"/>
<path d="M1048.0 716.5H1055.0" fill="none"/>
<path d="M1059.0 716.5H1065.0" fill="none"/>
<path d="M1064.0 716.5H1070.0" fill="none"/>
<path d="M1074.0 716.5H1081.0" fill="none"/>
<path d="M1080.0 716.5H1086.0" fill="none"/>
<rect x="1090.5" y="715.5" width="5.0" height="1.0" fill="#0000FF"/>
<path d="M1095.0 716.5H1102.0" fill="none"/>
<path d="M1106.0 716.5H1112.0" fill="none"/>
<path d="M1111.0 716.5H1117.0" fill="none"/>
<path d="M1121.0 716.5H1128.0" fill="none"/>
<path d="M1127.0 716.5H1133.0" fill="none"/>
<path d="M1137.0 716.5H1143.0" fill="none"/>
<path d="M1142.0 716.5H1148.0" fill="none"/>
</g>
<rect x="665.5" y="465.5" width="501" height="253" fill="none" stroke="#000" stroke-width="1" shape-rendering="crispEdges"/>
<text x="731.10" y="440.20" font-size="16" font-weight="bold" textLength="369" lengthAdjust="spacingAndGlyphs">SIX versus S&amp;P500 return frequency distribution</text>
<text transform="translate(647.00,719.70) rotate(-90)" font-size="13.8" textLength="7" lengthAdjust="spacingAndGlyphs">0</text>
<text transform="translate(647.00,665.27) rotate(-90)" font-size="13.8" textLength="21" lengthAdjust="spacingAndGlyphs">500</text>
<text transform="translate(647.00,607.35) rotate(-90)" font-size="13.8" textLength="28" lengthAdjust="spacingAndGlyphs">1000</text>
<text transform="translate(647.00,545.92) rotate(-90)" font-size="13.8" textLength="28" lengthAdjust="spacingAndGlyphs">1500</text>
<text transform="translate(647.00,484.50) rotate(-90)" font-size="13.8" textLength="28" lengthAdjust="spacingAndGlyphs">2000</text>
<path d="M657.0 715.5H665.5M657.0 654.5H665.5M657.0 593.5H665.5M657.0 531.5H665.5M657.0 470.5H665.5" stroke="#000" stroke-width="1" fill="none" shape-rendering="crispEdges"/>
<text x="650.61" y="749.30" font-size="13.8" textLength="77" lengthAdjust="spacingAndGlyphs">[-0.25,-0.234)</text>
<text x="740.97" y="749.30" font-size="13.8" textLength="84" lengthAdjust="spacingAndGlyphs">[-0.155,-0.139)</text>
<text x="843.46" y="749.30" font-size="13.8" textLength="98" lengthAdjust="spacingAndGlyphs">[-0.0437,-0.0278)</text>
<text x="956.95" y="749.30" font-size="13.8" textLength="90" lengthAdjust="spacingAndGlyphs">[0.0673,0.0832)</text>
<text x="1073.45" y="749.30" font-size="13.8" textLength="76" lengthAdjust="spacingAndGlyphs">[0.178,0.194)</text>
<text x="898.20" y="779.80" font-size="13.8" textLength="33" lengthAdjust="spacingAndGlyphs">return</text>
<text transform="translate(614.50,620.50) rotate(-90)" font-size="13.8" textLength="56" lengthAdjust="spacingAndGlyphs">frequency</text>
<rect x="993.5" y="465.5" width="173" height="48" fill="#fff" stroke="#000" stroke-width="1" shape-rendering="crispEdges"/>
<rect x="1005.5" y="477.5" width="9" height="8" fill="#0000FF" stroke="#000" stroke-width="1" shape-rendering="crispEdges"/>
<rect x="1005.5" y="493.5" width="9" height="8" fill="#FFFF00" stroke="#000" stroke-width="1" shape-rendering="crispEdges"/>
<text x="1026.20" y="487.00" font-size="13.8" textLength="19.5" lengthAdjust="spacingAndGlyphs">SIX</text>
<text x="1049.70" y="487.00" font-size="13.8" textLength="93" lengthAdjust="spacingAndGlyphs">return frequency</text>
<text x="1026.50" y="503.00" font-size="13.8" textLength="134" lengthAdjust="spacingAndGlyphs">GSPC return frequency</text>
</svg></body></html>
